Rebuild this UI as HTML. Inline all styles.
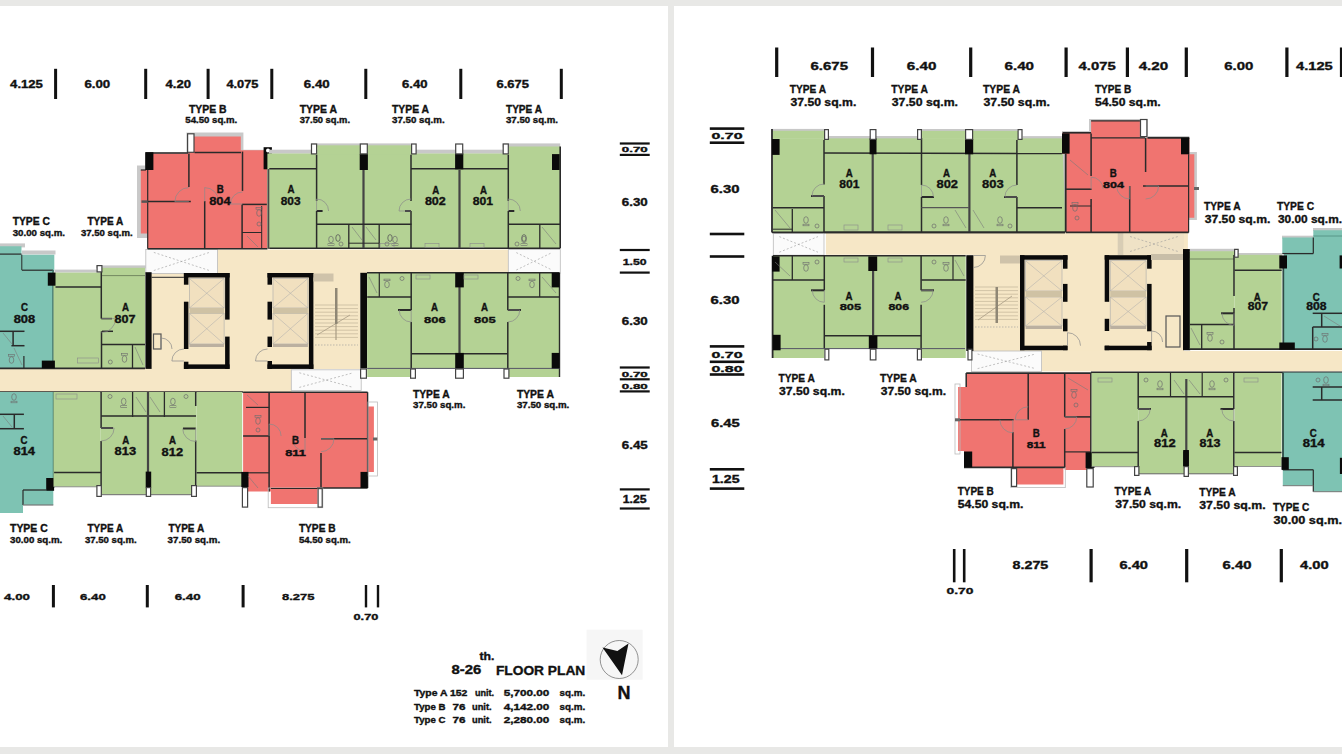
<!DOCTYPE html>
<html><head><meta charset="utf-8"><style>
html,body{margin:0;padding:0;background:#fff;overflow:hidden}
svg{display:block}
text{font-family:"Liberation Sans",sans-serif}
</style></head><body>
<svg width="1342" height="754" viewBox="0 0 1342 754" shape-rendering="geometricPrecision">
<rect width="1342" height="754" fill="#fff"/>
<rect x="0" y="0" width="1342" height="6" fill="#e8e8e6" />
<rect x="0" y="747" width="1342" height="7" fill="#e8e8e6" />
<rect x="668" y="0" width="6" height="754" fill="#e8e8e6" />
<rect x="217.5" y="249.5" width="291" height="24" fill="#f6e7c6" />
<rect x="151" y="272" width="209" height="97" fill="#f6e7c6" />
<rect x="0" y="368.5" width="291.5" height="23.5" fill="#f6e7c6" />
<rect x="145.8" y="249.4" width="71.6" height="24" fill="#fbfbfb" stroke="#bbb" stroke-width="0.8"/>
<rect x="508.3" y="249.6" width="52" height="23.4" fill="#fbfbfb" stroke="#bbb" stroke-width="0.8"/>
<rect x="291.3" y="369.8" width="69.9" height="20.6" fill="#fbfbfb" stroke="#bbb" stroke-width="0.8"/>
<line x1="153.8" y1="252.4" x2="209.4" y2="270.5" stroke="#999" stroke-width="0.6" stroke-dasharray="2,2"/>
<line x1="153.8" y1="270.5" x2="209.4" y2="252.4" stroke="#999" stroke-width="0.6" stroke-dasharray="2,2"/>
<line x1="516.3" y1="252.6" x2="552" y2="270" stroke="#999" stroke-width="0.6" stroke-dasharray="2,2"/>
<line x1="516.3" y1="270" x2="552" y2="252.6" stroke="#999" stroke-width="0.6" stroke-dasharray="2,2"/>
<line x1="299.3" y1="372.8" x2="353.2" y2="387.4" stroke="#999" stroke-width="0.6" stroke-dasharray="2,2"/>
<line x1="299.3" y1="387.4" x2="353.2" y2="372.8" stroke="#999" stroke-width="0.6" stroke-dasharray="2,2"/>
<polygon points="137,165.5 145.2,165.5 145.2,152.2 186.4,152.2 186.4,132.6 243.4,132.6 243.4,149.7 266,149.7 266,248.8 147.7,248.8 147.7,238 137,238" fill="#c9c9c9" stroke="none" stroke-width="0" />
<polygon points="140.8,170 146,170 146,153.5 188.3,153.5 188.3,136.4 240.8,136.4 240.8,150.3 267.4,150.3 267.4,248.8 147.7,248.8 147.7,233.6 140.8,233.6" fill="#f07470" stroke="none" stroke-width="0" />
<rect x="187.6" y="133.79999999999998" width="6.399999999999994" height="18.500000000000018" fill="#fff" stroke="#444" stroke-width="1.2"/>
<line x1="146" y1="153" x2="188" y2="153" stroke="#2a2a2a" stroke-width="1.6" />
<line x1="194.6" y1="152.5" x2="241" y2="152.5" stroke="#2a2a2a" stroke-width="1.4" />
<line x1="140.8" y1="170" x2="146" y2="170" stroke="#2a2a2a" stroke-width="1.2" />
<line x1="147.7" y1="248.8" x2="267.4" y2="248.8" stroke="#2a2a2a" stroke-width="1.6" />
<line x1="188.9" y1="153.5" x2="188.9" y2="187" stroke="#2a2a2a" stroke-width="1.5" />
<line x1="242.5" y1="151.6" x2="242.5" y2="190.9" stroke="#2a2a2a" stroke-width="1.5" />
<line x1="147.7" y1="201.6" x2="190.8" y2="201.6" stroke="#2a2a2a" stroke-width="1.5" />
<line x1="204.7" y1="201" x2="204.7" y2="248.8" stroke="#2a2a2a" stroke-width="1.5" />
<line x1="242.1" y1="204.4" x2="266.8" y2="204.4" stroke="#2a2a2a" stroke-width="1.5" />
<line x1="242.1" y1="204.4" x2="242.1" y2="248.8" stroke="#2a2a2a" stroke-width="1.5" />
<line x1="261.7" y1="206" x2="261.7" y2="248.8" stroke="#2a2a2a" stroke-width="1.0" />
<line x1="242" y1="232.5" x2="261.7" y2="232.5" stroke="#2a2a2a" stroke-width="1.0" />
<line x1="147.7" y1="170" x2="147.7" y2="248.8" stroke="#2a2a2a" stroke-width="1.2" />
<line x1="141.5" y1="201.6" x2="147.7" y2="201.6" stroke="#555" stroke-width="2.5" />
<path d="M188.9,201.6 L174.9,201.6 A14,14 0 0 1 188.9,187.6" fill="none" stroke="#8a8a8a" stroke-width="0.7"/>
<path d="M204.7,201.6 L204.7,187.6 A14,14 0 0 1 218.7,201.6" fill="none" stroke="#8a8a8a" stroke-width="0.7"/>
<path d="M242.5,204.0 L230.5,204.0 A12,12 0 0 1 242.5,192.0" fill="none" stroke="#8a8a8a" stroke-width="0.7"/>
<rect x="145.2" y="152.2" width="8.200000000000017" height="17.80000000000001" fill="#0a0a0a" />
<rect x="263.6" y="147.2" width="8.299999999999955" height="22.100000000000023" fill="#0a0a0a" />
<circle cx="268" cy="150.5" r="2" fill="#fff"/>
<rect x="269" y="149.7" width="291.5" height="4" fill="#c8c8c8" />
<rect x="310.9" y="143.4" width="100" height="4" fill="#c8c8c8" />
<rect x="502.6" y="143.4" width="57.6" height="4" fill="#c8c8c8" />
<rect x="267.4" y="153.5" width="292.8" height="95" fill="#b4d294" />
<line x1="268.4" y1="169" x2="268.4" y2="248.8" stroke="#4a4a4a" stroke-width="1.8" />
<rect x="317.2" y="145.3" width="93.8" height="9" fill="#b4d294" />
<rect x="508.9" y="146.5" width="51.3" height="8" fill="#b4d294" />
<line x1="269.3" y1="248.2" x2="560.2" y2="248.2" stroke="#2a2a2a" stroke-width="1.6" />
<line x1="560.2" y1="146.5" x2="560.2" y2="248.2" stroke="#2a2a2a" stroke-width="1.6" />
<line x1="269.3" y1="168.7" x2="316.6" y2="168.7" stroke="#2a2a2a" stroke-width="1.5" />
<line x1="411" y1="168.7" x2="508.3" y2="168.7" stroke="#2a2a2a" stroke-width="1.5" />
<line x1="316.6" y1="154.8" x2="316.6" y2="201" stroke="#2a2a2a" stroke-width="1.5" />
<line x1="411" y1="154.8" x2="411" y2="201" stroke="#2a2a2a" stroke-width="1.5" />
<line x1="508.3" y1="154.8" x2="508.3" y2="201" stroke="#2a2a2a" stroke-width="1.5" />
<line x1="363.5" y1="170" x2="363.5" y2="248" stroke="#444" stroke-width="2.2" />
<line x1="459.5" y1="170" x2="459.5" y2="248" stroke="#444" stroke-width="2.2" />
<line x1="316.6" y1="211" x2="322.6" y2="211" stroke="#2a2a2a" stroke-width="2.0" />
<line x1="316.6" y1="211" x2="316.6" y2="248" stroke="#2a2a2a" stroke-width="1.5" />
<path d="M316.6,211.0 L316.6,199.0 A12,12 0 0 1 328.6,211.0" fill="none" stroke="#8a8a8a" stroke-width="0.7"/>
<line x1="411" y1="211" x2="405" y2="211" stroke="#2a2a2a" stroke-width="2.0" />
<line x1="411" y1="211" x2="411" y2="248" stroke="#2a2a2a" stroke-width="1.5" />
<path d="M411.0,211.0 L399.0,211.0 A12,12 0 0 1 411.0,199.0" fill="none" stroke="#8a8a8a" stroke-width="0.7"/>
<line x1="508.3" y1="211" x2="514.3" y2="211" stroke="#2a2a2a" stroke-width="2.0" />
<line x1="508.3" y1="211" x2="508.3" y2="248" stroke="#2a2a2a" stroke-width="1.5" />
<path d="M508.3,211.0 L508.3,199.0 A12,12 0 0 1 520.3,211.0" fill="none" stroke="#8a8a8a" stroke-width="0.7"/>
<line x1="316.5" y1="224.2" x2="411.5" y2="224.2" stroke="#2a2a2a" stroke-width="1.5" />
<line x1="348.8" y1="224.2" x2="348.8" y2="248" stroke="#2a2a2a" stroke-width="1.3" />
<line x1="379.2" y1="224.2" x2="379.2" y2="248" stroke="#2a2a2a" stroke-width="1.3" />
<line x1="348.8" y1="243.2" x2="379.2" y2="243.2" stroke="#2a2a2a" stroke-width="1.0" />
<line x1="508.3" y1="224.2" x2="560" y2="224.2" stroke="#2a2a2a" stroke-width="1.5" />
<line x1="539.8" y1="224.2" x2="539.8" y2="248" stroke="#2a2a2a" stroke-width="1.3" />
<ellipse cx="338" cy="238" rx="2.2" ry="3.4" fill="none" stroke="#555" stroke-width="0.8"/>
<ellipse cx="390" cy="238" rx="2.2" ry="3.4" fill="none" stroke="#555" stroke-width="0.8"/>
<ellipse cx="524" cy="238" rx="2.2" ry="3.4" fill="none" stroke="#555" stroke-width="0.8"/>
<rect x="359.7" y="154.1" width="8.199999999999989" height="15.900000000000006" fill="#0a0a0a" />
<rect x="455.1" y="153.5" width="8.199999999999989" height="15.800000000000011" fill="#0a0a0a" />
<rect x="552" y="154.1" width="7.600000000000023" height="15.900000000000006" fill="#0a0a0a" />
<rect x="311.5" y="144.0" width="5.100000000000011" height="9.899999999999995" fill="#fff" stroke="#444" stroke-width="1.2"/>
<rect x="360.3" y="144.0" width="6.9999999999999885" height="9.899999999999995" fill="#fff" stroke="#444" stroke-width="1.2"/>
<rect x="411.6" y="144.0" width="4.4999999999999885" height="9.899999999999995" fill="#fff" stroke="#444" stroke-width="1.2"/>
<rect x="455.70000000000005" y="144.0" width="6.9999999999999885" height="9.899999999999995" fill="#fff" stroke="#444" stroke-width="1.2"/>
<rect x="503.20000000000005" y="144.0" width="5.099999999999954" height="9.899999999999995" fill="#fff" stroke="#444" stroke-width="1.2"/>
<rect x="145.4" y="272.2" width="6.2" height="96.7" fill="#0a0a0a" />
<rect x="360.3" y="272.8" width="6.9" height="95.6" fill="#0a0a0a" />
<rect x="183.9" y="273" width="45.69999999999999" height="4.5" fill="#0a0a0a" />
<rect x="183.9" y="364.4" width="45.69999999999999" height="4.5" fill="#0a0a0a" />
<rect x="183.9" y="273" width="4.5" height="11.699999999999989" fill="#0a0a0a" />
<rect x="183.9" y="301.7" width="4.5" height="47.30000000000001" fill="#0a0a0a" />
<rect x="183.9" y="361.7" width="4.5" height="7.199999999999989" fill="#0a0a0a" />
<rect x="225.1" y="273" width="4.5" height="46.60000000000002" fill="#0a0a0a" />
<rect x="225.1" y="336.6" width="4.5" height="32.299999999999955" fill="#0a0a0a" />
<rect x="189.4" y="278.5" width="34.69999999999999" height="29.5" fill="#f1e0bf" stroke="#aaa" stroke-width="0.6"/>
<line x1="189.4" y1="278.5" x2="224.1" y2="308" stroke="#aaa" stroke-width="0.5" />
<line x1="189.4" y1="308" x2="224.1" y2="278.5" stroke="#aaa" stroke-width="0.5" />
<rect x="189.4" y="313.4" width="34.69999999999999" height="30.600000000000023" fill="#f1e0bf" stroke="#aaa" stroke-width="0.6"/>
<line x1="189.4" y1="313.4" x2="224.1" y2="344" stroke="#aaa" stroke-width="0.5" />
<line x1="189.4" y1="344" x2="224.1" y2="313.4" stroke="#aaa" stroke-width="0.5" />
<rect x="189.4" y="308" width="34.69999999999999" height="5.4" fill="#cfc2a4" />
<rect x="189.4" y="344" width="34.69999999999999" height="3" fill="#bbb0a0" />
<rect x="267.5" y="273" width="45.89999999999998" height="4.5" fill="#0a0a0a" />
<rect x="267.5" y="364.4" width="45.89999999999998" height="4.5" fill="#0a0a0a" />
<rect x="267.5" y="273" width="4.5" height="11.699999999999989" fill="#0a0a0a" />
<rect x="267.5" y="301.7" width="4.5" height="17.900000000000034" fill="#0a0a0a" />
<rect x="267.5" y="336.6" width="4.5" height="10.399999999999977" fill="#0a0a0a" />
<rect x="267.5" y="361" width="4.5" height="7.899999999999977" fill="#0a0a0a" />
<rect x="308.9" y="273" width="4.5" height="95.89999999999998" fill="#0a0a0a" />
<rect x="273.0" y="278.5" width="34.89999999999998" height="29.5" fill="#f1e0bf" stroke="#aaa" stroke-width="0.6"/>
<line x1="273.0" y1="278.5" x2="307.9" y2="308" stroke="#aaa" stroke-width="0.5" />
<line x1="273.0" y1="308" x2="307.9" y2="278.5" stroke="#aaa" stroke-width="0.5" />
<rect x="273.0" y="313.4" width="34.89999999999998" height="30.600000000000023" fill="#f1e0bf" stroke="#aaa" stroke-width="0.6"/>
<line x1="273.0" y1="313.4" x2="307.9" y2="344" stroke="#aaa" stroke-width="0.5" />
<line x1="273.0" y1="344" x2="307.9" y2="313.4" stroke="#aaa" stroke-width="0.5" />
<rect x="273.0" y="308" width="34.89999999999998" height="5.4" fill="#cfc2a4" />
<rect x="273.0" y="344" width="34.89999999999998" height="3" fill="#bbb0a0" />
<line x1="315" y1="305.0" x2="358" y2="305.0" stroke="#b8ab90" stroke-width="0.6" />
<line x1="315" y1="308.6" x2="358" y2="308.6" stroke="#b8ab90" stroke-width="0.6" />
<line x1="315" y1="312.2" x2="358" y2="312.2" stroke="#b8ab90" stroke-width="0.6" />
<line x1="315" y1="315.8" x2="358" y2="315.8" stroke="#b8ab90" stroke-width="0.6" />
<line x1="315" y1="319.4" x2="358" y2="319.4" stroke="#b8ab90" stroke-width="0.6" />
<line x1="315" y1="323.0" x2="358" y2="323.0" stroke="#b8ab90" stroke-width="0.6" />
<line x1="315" y1="326.6" x2="358" y2="326.6" stroke="#b8ab90" stroke-width="0.6" />
<line x1="315" y1="330.2" x2="358" y2="330.2" stroke="#b8ab90" stroke-width="0.6" />
<line x1="315" y1="333.8" x2="358" y2="333.8" stroke="#b8ab90" stroke-width="0.6" />
<line x1="315" y1="337.4" x2="358" y2="337.4" stroke="#b8ab90" stroke-width="0.6" />
<line x1="336" y1="305" x2="336" y2="340" stroke="#a89c84" stroke-width="1.2" />
<line x1="317" y1="335" x2="350" y2="315" stroke="#a89c84" stroke-width="0.8" />
<line x1="151.6" y1="277.3" x2="183.9" y2="277.3" stroke="#2a2a2a" stroke-width="1.0" />
<rect x="0" y="243.4" width="25" height="4" fill="#c8c8c8" />
<rect x="22" y="250.5" width="33.5" height="4" fill="#c8c8c8" />
<polygon points="0,246.3 21.5,246.3 21.5,254.7 54.3,254.7 54.3,270.2 53.1,270.2 53.1,368.4 0,368.4" fill="#7ec3b3" stroke="none" stroke-width="0" />
<line x1="0" y1="254.1" x2="21.5" y2="254.1" stroke="#2a2a2a" stroke-width="1.2" />
<line x1="22" y1="270.2" x2="53" y2="270.2" stroke="#2a2a2a" stroke-width="1.2" />
<line x1="21.8" y1="254.7" x2="21.8" y2="270.2" stroke="#2a2a2a" stroke-width="1.0" />
<line x1="53.1" y1="270" x2="53.1" y2="368.4" stroke="#3f6f66" stroke-width="1.6" />
<rect x="54.5" y="269.6" width="47.5" height="3" fill="#c8c8c8" />
<rect x="96" y="265.4" width="50" height="3" fill="#c8c8c8" />
<rect x="53.5" y="272.6" width="48.5" height="95.8" fill="#b4d294" />
<rect x="102" y="267.8" width="43" height="100.6" fill="#b4d294" />
<line x1="55.5" y1="287" x2="101.3" y2="287" stroke="#2a2a2a" stroke-width="1.5" />
<line x1="101.3" y1="270.8" x2="101.3" y2="318.6" stroke="#2a2a2a" stroke-width="1.5" />
<line x1="101.3" y1="318.6" x2="112" y2="318.6" stroke="#2a2a2a" stroke-width="1.5" />
<line x1="101.5" y1="331.3" x2="101.5" y2="368.4" stroke="#2a2a2a" stroke-width="1.5" />
<line x1="101.5" y1="344.5" x2="145" y2="344.5" stroke="#2a2a2a" stroke-width="1.5" />
<line x1="132.5" y1="344.5" x2="132.5" y2="368.4" stroke="#2a2a2a" stroke-width="1.3" />
<line x1="102" y1="331.3" x2="113" y2="331.3" stroke="#2a2a2a" stroke-width="1.5" />
<line x1="102" y1="275.6" x2="145" y2="275.6" stroke="#6b7f5a" stroke-width="0.9" />
<path d="M101.5,318.6 L115.5,318.6 A14,14 0 0 1 101.5,332.6" fill="none" stroke="#8a8a8a" stroke-width="0.7"/>
<line x1="0" y1="331.3" x2="24.5" y2="331.3" stroke="#2a2a2a" stroke-width="1.5" />
<line x1="11.4" y1="345.7" x2="24.5" y2="345.7" stroke="#2a2a2a" stroke-width="1.5" />
<line x1="13.1" y1="331.3" x2="13.1" y2="345.7" stroke="#2a2a2a" stroke-width="1.5" />
<line x1="23.9" y1="356" x2="23.9" y2="368.4" stroke="#2a2a2a" stroke-width="1.2" />
<line x1="0" y1="368.4" x2="145" y2="368.4" stroke="#2a2a2a" stroke-width="1.6" />
<rect x="47.8" y="272.6" width="7.700000000000003" height="13.099999999999966" fill="#0a0a0a" />
<rect x="41.8" y="360.6" width="13.100000000000001" height="7.7999999999999545" fill="#0a0a0a" />
<rect x="97.1" y="265.6" width="4.8" height="6.3" fill="#fff" stroke="#444" stroke-width="1.2"/>
<polygon points="367.2,272.8 559.5,272.8 559.5,377 507.8,377 507.8,368.4 411.2,368.4 411.2,377 367.2,377" fill="#b4d294" stroke="none" stroke-width="0" />
<line x1="367" y1="272.8" x2="559.5" y2="272.8" stroke="#2a2a2a" stroke-width="1.6" />
<line x1="559.5" y1="272.8" x2="559.5" y2="377" stroke="#2a2a2a" stroke-width="1.4" />
<line x1="411.2" y1="272.8" x2="411.2" y2="310" stroke="#2a2a2a" stroke-width="1.5" />
<line x1="411.2" y1="322" x2="411.2" y2="368.4" stroke="#2a2a2a" stroke-width="1.5" />
<line x1="507.8" y1="272.8" x2="507.8" y2="310" stroke="#2a2a2a" stroke-width="1.5" />
<line x1="507.8" y1="322" x2="507.8" y2="368.4" stroke="#2a2a2a" stroke-width="1.5" />
<line x1="459.5" y1="287" x2="459.5" y2="353" stroke="#444" stroke-width="2.2" />
<line x1="367.2" y1="296.9" x2="411.2" y2="296.9" stroke="#2a2a2a" stroke-width="1.5" />
<line x1="507.8" y1="296.9" x2="559.5" y2="296.9" stroke="#2a2a2a" stroke-width="1.5" />
<line x1="411.2" y1="353.8" x2="507.8" y2="353.8" stroke="#2a2a2a" stroke-width="1.5" />
<line x1="379.3" y1="272.8" x2="379.3" y2="296.9" stroke="#2a2a2a" stroke-width="1.2" />
<line x1="539.7" y1="272.8" x2="539.7" y2="296.9" stroke="#2a2a2a" stroke-width="1.2" />
<line x1="398" y1="310" x2="411.2" y2="310" stroke="#2a2a2a" stroke-width="2.0" />
<line x1="507.8" y1="310" x2="521" y2="310" stroke="#2a2a2a" stroke-width="2.0" />
<path d="M411.2,310.0 L411.2,322.0 A12,12 0 0 1 399.2,310.0" fill="none" stroke="#8a8a8a" stroke-width="0.7"/>
<path d="M507.8,310.0 L519.8,310.0 A12,12 0 0 1 507.8,322.0" fill="none" stroke="#8a8a8a" stroke-width="0.7"/>
<line x1="367.2" y1="368.4" x2="559.5" y2="368.4" stroke="#556" stroke-width="1.0" />
<rect x="455.2" y="272.8" width="8.600000000000023" height="14.599999999999966" fill="#0a0a0a" />
<rect x="455.2" y="352.9" width="8.600000000000023" height="15.5" fill="#0a0a0a" />
<rect x="551.7" y="272.8" width="7.7999999999999545" height="14.599999999999966" fill="#0a0a0a" />
<rect x="551.7" y="352.9" width="7.7999999999999545" height="15.5" fill="#0a0a0a" />
<rect x="360.6" y="369.0" width="5.8" height="9.200000000000035" fill="#fff" stroke="#444" stroke-width="1.2"/>
<rect x="410.6" y="369.0" width="4.8" height="9.200000000000035" fill="#fff" stroke="#444" stroke-width="1.2"/>
<rect x="455.6" y="369.0" width="7.8" height="9.200000000000035" fill="#fff" stroke="#444" stroke-width="1.2"/>
<rect x="504.0" y="369.0" width="4.900000000000023" height="9.200000000000035" fill="#fff" stroke="#444" stroke-width="1.2"/>
<line x1="0" y1="392" x2="243" y2="392" stroke="#2a2a2a" stroke-width="1.6" />
<polygon points="0,392 53.3,392 53.3,488.4 53.3,505 23,505 23,513 0,513" fill="#7ec3b3" stroke="none" stroke-width="0" />
<line x1="23" y1="490" x2="46" y2="490" stroke="#2a2a2a" stroke-width="1.3" />
<line x1="23" y1="490" x2="23" y2="505" stroke="#2a2a2a" stroke-width="1.2" />
<line x1="23" y1="505" x2="53.3" y2="505" stroke="#777" stroke-width="1.2" />
<line x1="53.6" y1="392" x2="53.6" y2="488" stroke="#3f6f66" stroke-width="1.6" />
<line x1="0" y1="414.3" x2="23.9" y2="414.3" stroke="#2a2a2a" stroke-width="1.5" />
<line x1="0" y1="428.7" x2="23.9" y2="428.7" stroke="#2a2a2a" stroke-width="1.5" />
<line x1="14.3" y1="414.3" x2="14.3" y2="428.7" stroke="#2a2a2a" stroke-width="1.5" />
<rect x="46.2" y="478" width="7.899999999999999" height="12.800000000000011" fill="#0a0a0a" />
<rect x="53.5" y="392" width="46.8" height="94.8" fill="#b4d294" />
<rect x="100.3" y="392" width="96.3" height="102.3" fill="#b4d294" />
<rect x="196.6" y="392" width="45.6" height="94.2" fill="#b4d294" />
<line x1="54.1" y1="472.4" x2="101" y2="472.4" stroke="#2a2a2a" stroke-width="1.5" />
<line x1="196.6" y1="472.8" x2="242" y2="472.8" stroke="#2a2a2a" stroke-width="1.5" />
<line x1="101.1" y1="416" x2="148" y2="416" stroke="#2a2a2a" stroke-width="1.5" />
<line x1="148" y1="416" x2="196" y2="416" stroke="#2a2a2a" stroke-width="1.5" />
<line x1="101.1" y1="392" x2="101.1" y2="428" stroke="#2a2a2a" stroke-width="1.5" />
<line x1="101.1" y1="441" x2="101.1" y2="494" stroke="#2a2a2a" stroke-width="1.5" />
<line x1="101.1" y1="428" x2="113" y2="428" stroke="#2a2a2a" stroke-width="2.0" />
<line x1="195.7" y1="392" x2="195.7" y2="406" stroke="#2a2a2a" stroke-width="1.5" />
<line x1="195.7" y1="440.5" x2="195.7" y2="494" stroke="#2a2a2a" stroke-width="1.5" />
<line x1="183" y1="428.5" x2="195.7" y2="428.5" stroke="#2a2a2a" stroke-width="2.0" />
<line x1="148" y1="392" x2="148" y2="472" stroke="#444" stroke-width="2.2" />
<line x1="132.6" y1="392" x2="132.6" y2="417" stroke="#2a2a2a" stroke-width="1.3" />
<line x1="164.4" y1="392" x2="164.4" y2="417" stroke="#2a2a2a" stroke-width="1.3" />
<line x1="54" y1="486.8" x2="100" y2="486.8" stroke="#888" stroke-width="0.9" />
<line x1="196" y1="486.2" x2="242" y2="486.2" stroke="#888" stroke-width="0.9" />
<line x1="101" y1="494.7" x2="196" y2="494.7" stroke="#666" stroke-width="1.0" />
<path d="M101.1,428.0 L114.1,428.0 A13,13 0 0 1 101.1,441.0" fill="none" stroke="#8a8a8a" stroke-width="0.7"/>
<path d="M195.7,428.5 L195.7,441.5 A13,13 0 0 1 182.7,428.5" fill="none" stroke="#8a8a8a" stroke-width="0.7"/>
<rect x="145.7" y="471.6" width="5.5" height="16.0" fill="#0a0a0a" />
<rect x="96.89999999999999" y="485.6" width="4.400000000000008" height="10.8" fill="#fff" stroke="#444" stroke-width="1.2"/>
<rect x="146.29999999999998" y="487.6" width="4.3" height="8.8" fill="#fff" stroke="#444" stroke-width="1.2"/>
<rect x="191.6" y="485.6" width="4.8" height="10.8" fill="#fff" stroke="#444" stroke-width="1.2"/>
<polygon points="243.1,392.2 367.6,392.2 367.6,406.5 373.9,406.5 373.9,471.9 367.6,471.9 367.6,488 317.5,488 317.5,504.1 270.9,504.1 270.9,491.6 243.1,491.6" fill="#f07470" stroke="none" stroke-width="0" />
<line x1="243.1" y1="392.2" x2="367.6" y2="392.2" stroke="#2a2a2a" stroke-width="1.6" />
<line x1="367.6" y1="392.2" x2="367.6" y2="488" stroke="#2a2a2a" stroke-width="1.4" />
<line x1="317" y1="488" x2="367.6" y2="488" stroke="#2a2a2a" stroke-width="1.4" />
<line x1="269.1" y1="392.2" x2="269.1" y2="491.6" stroke="#2a2a2a" stroke-width="1.5" />
<line x1="305" y1="392.2" x2="305" y2="438" stroke="#2a2a2a" stroke-width="1.5" />
<line x1="321" y1="453" x2="321" y2="488" stroke="#2a2a2a" stroke-width="1.5" />
<line x1="321" y1="438.7" x2="367.6" y2="438.7" stroke="#2a2a2a" stroke-width="1.5" />
<line x1="243.1" y1="436" x2="269.1" y2="436" stroke="#2a2a2a" stroke-width="1.5" />
<line x1="246" y1="407.4" x2="269.1" y2="407.4" stroke="#2a2a2a" stroke-width="1.2" />
<line x1="246" y1="472.8" x2="269.1" y2="472.8" stroke="#2a2a2a" stroke-width="1.2" />
<line x1="373" y1="439" x2="378" y2="439" stroke="#666" stroke-width="3" />
<rect x="368" y="402" width="9.5" height="74" fill="none" stroke="#bbb" stroke-width="0.8"/>
<rect x="268.2" y="488" width="54.6" height="19.7" fill="none" stroke="#bbb" stroke-width="0.8"/>
<line x1="270.9" y1="488.5" x2="317.5" y2="488.5" stroke="#2a2a2a" stroke-width="1.2" />
<path d="M305.0,438.0 L305.0,451.0 A13,13 0 0 1 292.0,438.0" fill="none" stroke="#8a8a8a" stroke-width="0.7"/>
<path d="M321.0,438.7 L334.0,438.7 A13,13 0 0 1 321.0,451.7" fill="none" stroke="#8a8a8a" stroke-width="0.7"/>
<path d="M269.1,436.0 L269.1,424.0 A12,12 0 0 1 281.1,436.0" fill="none" stroke="#8a8a8a" stroke-width="0.7"/>
<rect x="360.5" y="471.9" width="7.100000000000023" height="16.100000000000023" fill="#0a0a0a" />
<rect x="241.3" y="471.9" width="7.199999999999989" height="15.100000000000023" fill="#0a0a0a" />
<rect x="242.4" y="487.6" width="5.199999999999977" height="19.49999999999999" fill="#fff" stroke="#444" stroke-width="1.2"/>
<rect x="318.1" y="488.6" width="4.100000000000011" height="18.49999999999999" fill="#fff" stroke="#444" stroke-width="1.2"/>
<text x="216.7" y="193.0" font-size="10.83" font-weight="bold" fill="#111" textLength="7.0" lengthAdjust="spacingAndGlyphs" stroke="#111" stroke-width="0.35" >B</text>
<text x="209.2" y="205.4" font-size="11.39" font-weight="bold" fill="#111" textLength="21.5" lengthAdjust="spacingAndGlyphs" stroke="#111" stroke-width="0.35" >804</text>
<text x="287.6" y="192.7" font-size="10.83" font-weight="bold" fill="#111" textLength="7.0" lengthAdjust="spacingAndGlyphs" stroke="#111" stroke-width="0.35" >A</text>
<text x="280.7" y="205.4" font-size="11.39" font-weight="bold" fill="#111" textLength="19.80000000000001" lengthAdjust="spacingAndGlyphs" stroke="#111" stroke-width="0.35" >803</text>
<text x="432.2" y="193.5" font-size="10.83" font-weight="bold" fill="#111" textLength="7.0" lengthAdjust="spacingAndGlyphs" stroke="#111" stroke-width="0.35" >A</text>
<text x="424.9" y="205.4" font-size="11.39" font-weight="bold" fill="#111" textLength="20.900000000000034" lengthAdjust="spacingAndGlyphs" stroke="#111" stroke-width="0.35" >802</text>
<text x="480.1" y="193.5" font-size="10.83" font-weight="bold" fill="#111" textLength="7.0" lengthAdjust="spacingAndGlyphs" stroke="#111" stroke-width="0.35" >A</text>
<text x="472.8" y="205.4" font-size="11.39" font-weight="bold" fill="#111" textLength="20.30000000000001" lengthAdjust="spacingAndGlyphs" stroke="#111" stroke-width="0.35" >801</text>
<text x="21.0" y="310.8" font-size="10.83" font-weight="bold" fill="#111" textLength="7.0" lengthAdjust="spacingAndGlyphs" stroke="#111" stroke-width="0.35" >C</text>
<text x="13.7" y="322.8" font-size="10.0" font-weight="bold" fill="#111" textLength="21.500000000000004" lengthAdjust="spacingAndGlyphs" stroke="#111" stroke-width="0.35" >808</text>
<text x="121.9" y="310.8" font-size="10.83" font-weight="bold" fill="#111" textLength="7.0" lengthAdjust="spacingAndGlyphs" stroke="#111" stroke-width="0.35" >A</text>
<text x="114.6" y="322.8" font-size="10.0" font-weight="bold" fill="#111" textLength="20.900000000000006" lengthAdjust="spacingAndGlyphs" stroke="#111" stroke-width="0.35" >807</text>
<text x="431.0" y="311.0" font-size="10.83" font-weight="bold" fill="#111" textLength="7.0" lengthAdjust="spacingAndGlyphs" stroke="#111" stroke-width="0.35" >A</text>
<text x="424.1" y="322.8" font-size="9.58" font-weight="bold" fill="#111" textLength="21.599999999999966" lengthAdjust="spacingAndGlyphs" stroke="#111" stroke-width="0.35" >806</text>
<text x="481.0" y="311.0" font-size="10.83" font-weight="bold" fill="#111" textLength="7.0" lengthAdjust="spacingAndGlyphs" stroke="#111" stroke-width="0.35" >A</text>
<text x="474.1" y="322.8" font-size="9.58" font-weight="bold" fill="#111" textLength="21.599999999999966" lengthAdjust="spacingAndGlyphs" stroke="#111" stroke-width="0.35" >805</text>
<text x="20.4" y="443.59999999999997" font-size="10.83" font-weight="bold" fill="#111" textLength="7.0" lengthAdjust="spacingAndGlyphs" stroke="#111" stroke-width="0.35" >C</text>
<text x="13.5" y="455" font-size="10.0" font-weight="bold" fill="#111" textLength="21.5" lengthAdjust="spacingAndGlyphs" stroke="#111" stroke-width="0.35" >814</text>
<text x="122.3" y="443.59999999999997" font-size="10.83" font-weight="bold" fill="#111" textLength="7.000000000000014" lengthAdjust="spacingAndGlyphs" stroke="#111" stroke-width="0.35" >A</text>
<text x="114.6" y="455" font-size="10.0" font-weight="bold" fill="#111" textLength="21.5" lengthAdjust="spacingAndGlyphs" stroke="#111" stroke-width="0.35" >813</text>
<text x="168.9" y="444.3" font-size="10.83" font-weight="bold" fill="#111" textLength="7.0" lengthAdjust="spacingAndGlyphs" stroke="#111" stroke-width="0.35" >A</text>
<text x="161.6" y="455.5" font-size="10.14" font-weight="bold" fill="#111" textLength="21.5" lengthAdjust="spacingAndGlyphs" stroke="#111" stroke-width="0.35" >812</text>
<text x="291.9" y="444.3" font-size="10.83" font-weight="bold" fill="#111" textLength="7.0" lengthAdjust="spacingAndGlyphs" stroke="#111" stroke-width="0.35" >B</text>
<text x="285.2" y="455.7" font-size="8.61" font-weight="bold" fill="#111" textLength="20.600000000000023" lengthAdjust="spacingAndGlyphs" stroke="#111" stroke-width="0.35" >811</text>
<rect x="153.5" y="334" width="7.5" height="15" fill="none" stroke="#555" stroke-width="1.2"/>
<path d="M161.0,349.0 L161.0,338.0 A11,11 0 0 1 172.0,349.0" fill="none" stroke="#8a8a8a" stroke-width="0.7"/>
<path d="M183.9,361.0 L171.9,361.0 A12,12 0 0 1 183.9,349.0" fill="none" stroke="#8a8a8a" stroke-width="0.7"/>
<path d="M267.5,361.0 L255.5,361.0 A12,12 0 0 1 267.5,349.0" fill="none" stroke="#8a8a8a" stroke-width="0.7"/>
<rect x="335" y="288" width="2.5" height="36" fill="#8f8775" />
<line x1="315" y1="345" x2="358" y2="345" stroke="#999" stroke-width="0.6" stroke-dasharray="1.5,1.5"/>
<rect x="313.5" y="273.5" width="20" height="8" fill="#cfc3aa" />
<text x="10.1" y="87.9" font-size="10.42" font-weight="bold" fill="#111" textLength="32.8" lengthAdjust="spacingAndGlyphs" stroke="#111" stroke-width="0.35" >4.125</text>
<text x="84.4" y="87.9" font-size="10.42" font-weight="bold" fill="#111" textLength="25.799999999999997" lengthAdjust="spacingAndGlyphs" stroke="#111" stroke-width="0.35" >6.00</text>
<text x="165.6" y="87.9" font-size="10.42" font-weight="bold" fill="#111" textLength="25.5" lengthAdjust="spacingAndGlyphs" stroke="#111" stroke-width="0.35" >4.20</text>
<text x="226.4" y="87.9" font-size="10.42" font-weight="bold" fill="#111" textLength="31.99999999999997" lengthAdjust="spacingAndGlyphs" stroke="#111" stroke-width="0.35" >4.075</text>
<text x="303.8" y="87.9" font-size="10.42" font-weight="bold" fill="#111" textLength="25.899999999999977" lengthAdjust="spacingAndGlyphs" stroke="#111" stroke-width="0.35" >6.40</text>
<text x="402.1" y="87.9" font-size="10.42" font-weight="bold" fill="#111" textLength="25.5" lengthAdjust="spacingAndGlyphs" stroke="#111" stroke-width="0.35" >6.40</text>
<text x="496.5" y="87.9" font-size="10.42" font-weight="bold" fill="#111" textLength="32.39999999999998" lengthAdjust="spacingAndGlyphs" stroke="#111" stroke-width="0.35" >6.675</text>
<rect x="54.1" y="68.8" width="3" height="30.2" fill="#111" />
<rect x="144.2" y="68.8" width="3" height="30.2" fill="#111" />
<rect x="206.6" y="68.8" width="3" height="30.2" fill="#111" />
<rect x="270.3" y="68.8" width="3" height="30.2" fill="#111" />
<rect x="364.3" y="68.8" width="3" height="30.2" fill="#111" />
<rect x="459.3" y="68.8" width="3" height="30.2" fill="#111" />
<rect x="559.8" y="68.8" width="3" height="30.2" fill="#111" />
<rect x="619.8" y="142.4" width="29.90000000000009" height="2.2" fill="#111" />
<rect x="619.8" y="153.8" width="29.90000000000009" height="2.2" fill="#111" />
<rect x="619.8" y="248.9" width="29.90000000000009" height="2.2" fill="#111" />
<rect x="619.8" y="271.5" width="29.90000000000009" height="2.2" fill="#111" />
<rect x="619.8" y="366.4" width="29.90000000000009" height="2.2" fill="#111" />
<rect x="619.8" y="378.2" width="29.90000000000009" height="2.2" fill="#111" />
<rect x="619.8" y="390.29999999999995" width="29.90000000000009" height="2.2" fill="#111" />
<rect x="619.8" y="488.29999999999995" width="29.90000000000009" height="2.2" fill="#111" />
<rect x="619.8" y="507.4" width="29.90000000000009" height="2.2" fill="#111" />
<text x="621.8" y="151.6" font-size="7.5" font-weight="bold" fill="#111" textLength="25.90000000000009" lengthAdjust="spacingAndGlyphs" stroke="#111" stroke-width="0.35" >0.70</text>
<text x="621.8" y="206.4" font-size="10.56" font-weight="bold" fill="#111" textLength="25.90000000000009" lengthAdjust="spacingAndGlyphs" stroke="#111" stroke-width="0.35" >6.30</text>
<text x="622.8" y="265.3" font-size="9.72" font-weight="bold" fill="#111" textLength="23.90000000000009" lengthAdjust="spacingAndGlyphs" stroke="#111" stroke-width="0.35" >1.50</text>
<text x="621.8" y="325.2" font-size="10.56" font-weight="bold" fill="#111" textLength="25.90000000000009" lengthAdjust="spacingAndGlyphs" stroke="#111" stroke-width="0.35" >6.30</text>
<text x="621.8" y="377" font-size="7.64" font-weight="bold" fill="#111" textLength="25.90000000000009" lengthAdjust="spacingAndGlyphs" stroke="#111" stroke-width="0.35" >0.70</text>
<text x="621.8" y="388.5" font-size="7.64" font-weight="bold" fill="#111" textLength="25.90000000000009" lengthAdjust="spacingAndGlyphs" stroke="#111" stroke-width="0.35" >0.80</text>
<text x="621.8" y="448.6" font-size="10.56" font-weight="bold" fill="#111" textLength="25.90000000000009" lengthAdjust="spacingAndGlyphs" stroke="#111" stroke-width="0.35" >6.45</text>
<text x="622.8" y="503.2" font-size="10.0" font-weight="bold" fill="#111" textLength="23.90000000000009" lengthAdjust="spacingAndGlyphs" stroke="#111" stroke-width="0.35" >1.25</text>
<text x="4" y="600" font-size="9.72" font-weight="bold" fill="#111" textLength="26" lengthAdjust="spacingAndGlyphs" stroke="#111" stroke-width="0.35" >4.00</text>
<text x="79.9" y="600" font-size="9.72" font-weight="bold" fill="#111" textLength="25.89999999999999" lengthAdjust="spacingAndGlyphs" stroke="#111" stroke-width="0.35" >6.40</text>
<text x="174.7" y="600" font-size="9.72" font-weight="bold" fill="#111" textLength="26.0" lengthAdjust="spacingAndGlyphs" stroke="#111" stroke-width="0.35" >6.40</text>
<text x="282" y="600" font-size="9.72" font-weight="bold" fill="#111" textLength="32.5" lengthAdjust="spacingAndGlyphs" stroke="#111" stroke-width="0.35" >8.275</text>
<rect x="51.9" y="585" width="3" height="22.4" fill="#111" />
<rect x="145.8" y="585" width="3" height="22.4" fill="#111" />
<rect x="241.6" y="585" width="3" height="22.4" fill="#111" />
<rect x="364.8" y="585" width="2.4" height="22.4" fill="#111" />
<rect x="376.8" y="585" width="2.4" height="22.4" fill="#111" />
<text x="353.5" y="619.5" font-size="9.03" font-weight="bold" fill="#111" textLength="24.899999999999977" lengthAdjust="spacingAndGlyphs" stroke="#111" stroke-width="0.35" >0.70</text>
<text x="189" y="112.9" font-size="10.28" font-weight="bold" fill="#111" textLength="37.599999999999994" lengthAdjust="spacingAndGlyphs" stroke="#111" stroke-width="0.35" >TYPE B</text>
<text x="185.3" y="123.1" font-size="8.89" font-weight="bold" fill="#111" textLength="52.0" lengthAdjust="spacingAndGlyphs" stroke="#111" stroke-width="0.35" >54.50 sq.m.</text>
<text x="299.7" y="112.9" font-size="10.28" font-weight="bold" fill="#111" textLength="37.30000000000001" lengthAdjust="spacingAndGlyphs" stroke="#111" stroke-width="0.35" >TYPE A</text>
<text x="299.7" y="123.1" font-size="8.89" font-weight="bold" fill="#111" textLength="50.30000000000001" lengthAdjust="spacingAndGlyphs" stroke="#111" stroke-width="0.35" >37.50 sq.m.</text>
<text x="392" y="112.9" font-size="10.28" font-weight="bold" fill="#111" textLength="37" lengthAdjust="spacingAndGlyphs" stroke="#111" stroke-width="0.35" >TYPE A</text>
<text x="392" y="123.1" font-size="8.89" font-weight="bold" fill="#111" textLength="52.60000000000002" lengthAdjust="spacingAndGlyphs" stroke="#111" stroke-width="0.35" >37.50 sq.m.</text>
<text x="506" y="112.9" font-size="10.28" font-weight="bold" fill="#111" textLength="36" lengthAdjust="spacingAndGlyphs" stroke="#111" stroke-width="0.35" >TYPE A</text>
<text x="506" y="123.1" font-size="8.89" font-weight="bold" fill="#111" textLength="52" lengthAdjust="spacingAndGlyphs" stroke="#111" stroke-width="0.35" >37.50 sq.m.</text>
<text x="12.7" y="225.4" font-size="10.28" font-weight="bold" fill="#111" textLength="37.2" lengthAdjust="spacingAndGlyphs" stroke="#111" stroke-width="0.35" >TYPE C</text>
<text x="12.7" y="235.6" font-size="8.89" font-weight="bold" fill="#111" textLength="52.3" lengthAdjust="spacingAndGlyphs" stroke="#111" stroke-width="0.35" >30.00 sq.m.</text>
<text x="87.5" y="225.4" font-size="10.28" font-weight="bold" fill="#111" textLength="35.8" lengthAdjust="spacingAndGlyphs" stroke="#111" stroke-width="0.35" >TYPE A</text>
<text x="80.9" y="235.6" font-size="8.89" font-weight="bold" fill="#111" textLength="51.69999999999999" lengthAdjust="spacingAndGlyphs" stroke="#111" stroke-width="0.35" >37.50 sq.m.</text>
<text x="479.5" y="659.5" font-size="10.42" font-weight="bold" fill="#111" textLength="14.899999999999977" lengthAdjust="spacingAndGlyphs" stroke="#111" stroke-width="0.35" >th.</text>
<text x="451.6" y="673.8" font-size="12.22" font-weight="bold" fill="#111" textLength="29.799999999999955" lengthAdjust="spacingAndGlyphs" stroke="#111" stroke-width="0.35" >8-26</text>
<text x="495.9" y="674.5" font-size="13.19" font-weight="bold" fill="#111" textLength="89.39999999999998" lengthAdjust="spacingAndGlyphs" stroke="#111" stroke-width="0.35" >FLOOR PLAN</text>
<text x="414" y="695.8" font-size="9.03" font-weight="bold" fill="#111" textLength="53.39999999999998" lengthAdjust="spacingAndGlyphs" stroke="#111" stroke-width="0.35" >Type A 152</text>
<text x="474.9" y="695.8" font-size="9.03" font-weight="bold" fill="#111" textLength="19.100000000000023" lengthAdjust="spacingAndGlyphs" stroke="#111" stroke-width="0.35" >unit.</text>
<text x="503.7" y="695.8" font-size="9.03" font-weight="bold" fill="#111" textLength="45.69999999999999" lengthAdjust="spacingAndGlyphs" stroke="#111" stroke-width="0.35" >5,700.00</text>
<text x="559.6" y="695.8" font-size="9.03" font-weight="bold" fill="#111" textLength="25.699999999999932" lengthAdjust="spacingAndGlyphs" stroke="#111" stroke-width="0.35" >sq.m.</text>
<text x="414" y="709.7" font-size="9.03" font-weight="bold" fill="#111" textLength="31.600000000000023" lengthAdjust="spacingAndGlyphs" stroke="#111" stroke-width="0.35" >Type B</text>
<text x="452.5" y="709.7" font-size="9.03" font-weight="bold" fill="#111" textLength="13.0" lengthAdjust="spacingAndGlyphs" stroke="#111" stroke-width="0.35" >76</text>
<text x="472" y="709.7" font-size="9.03" font-weight="bold" fill="#111" textLength="19.600000000000023" lengthAdjust="spacingAndGlyphs" stroke="#111" stroke-width="0.35" >unit.</text>
<text x="503.7" y="709.7" font-size="9.03" font-weight="bold" fill="#111" textLength="45.69999999999999" lengthAdjust="spacingAndGlyphs" stroke="#111" stroke-width="0.35" >4,142.00</text>
<text x="559.6" y="709.7" font-size="9.03" font-weight="bold" fill="#111" textLength="25.699999999999932" lengthAdjust="spacingAndGlyphs" stroke="#111" stroke-width="0.35" >sq.m.</text>
<text x="414" y="722.8" font-size="9.03" font-weight="bold" fill="#111" textLength="31.600000000000023" lengthAdjust="spacingAndGlyphs" stroke="#111" stroke-width="0.35" >Type C</text>
<text x="452.5" y="722.8" font-size="9.03" font-weight="bold" fill="#111" textLength="13.0" lengthAdjust="spacingAndGlyphs" stroke="#111" stroke-width="0.35" >76</text>
<text x="472" y="722.8" font-size="9.03" font-weight="bold" fill="#111" textLength="19.600000000000023" lengthAdjust="spacingAndGlyphs" stroke="#111" stroke-width="0.35" >unit.</text>
<text x="503.7" y="722.8" font-size="9.03" font-weight="bold" fill="#111" textLength="45.69999999999999" lengthAdjust="spacingAndGlyphs" stroke="#111" stroke-width="0.35" >2,280.00</text>
<text x="559.6" y="722.8" font-size="9.03" font-weight="bold" fill="#111" textLength="25.699999999999932" lengthAdjust="spacingAndGlyphs" stroke="#111" stroke-width="0.35" >sq.m.</text>
<rect x="586.6" y="629.7" width="56" height="50" fill="#f6f6f6" />
<circle cx="619.2" cy="659.5" r="19" fill="none" stroke="#777" stroke-width="0.8"/>
<polygon points="602.5,647.4 617.4,651 628.5,643.6 622,675.3" fill="#111" stroke="none" stroke-width="0" />
<text x="617.4" y="698.6" font-size="18.19" font-weight="bold" fill="#111" textLength="13.0" lengthAdjust="spacingAndGlyphs" stroke="#111" stroke-width="0.35" >N</text>
<text x="413" y="397.59999999999997" font-size="10.28" font-weight="bold" fill="#111" textLength="36.69999999999999" lengthAdjust="spacingAndGlyphs" stroke="#111" stroke-width="0.35" >TYPE A</text>
<text x="413" y="407.8" font-size="8.89" font-weight="bold" fill="#111" textLength="52.39999999999998" lengthAdjust="spacingAndGlyphs" stroke="#111" stroke-width="0.35" >37.50 sq.m.</text>
<text x="516.9" y="397.59999999999997" font-size="10.28" font-weight="bold" fill="#111" textLength="37.0" lengthAdjust="spacingAndGlyphs" stroke="#111" stroke-width="0.35" >TYPE A</text>
<text x="516.9" y="407.8" font-size="8.89" font-weight="bold" fill="#111" textLength="52.39999999999998" lengthAdjust="spacingAndGlyphs" stroke="#111" stroke-width="0.35" >37.50 sq.m.</text>
<text x="298.9" y="532.4" font-size="10.28" font-weight="bold" fill="#111" textLength="36.700000000000045" lengthAdjust="spacingAndGlyphs" stroke="#111" stroke-width="0.35" >TYPE B</text>
<text x="298.9" y="542.6" font-size="8.89" font-weight="bold" fill="#111" textLength="51.700000000000045" lengthAdjust="spacingAndGlyphs" stroke="#111" stroke-width="0.35" >54.50 sq.m.</text>
<text x="10" y="532.4" font-size="10.28" font-weight="bold" fill="#111" textLength="37.7" lengthAdjust="spacingAndGlyphs" stroke="#111" stroke-width="0.35" >TYPE C</text>
<text x="10" y="542.6" font-size="8.89" font-weight="bold" fill="#111" textLength="52.3" lengthAdjust="spacingAndGlyphs" stroke="#111" stroke-width="0.35" >30.00 sq.m.</text>
<text x="87.5" y="532.4" font-size="10.28" font-weight="bold" fill="#111" textLength="35.8" lengthAdjust="spacingAndGlyphs" stroke="#111" stroke-width="0.35" >TYPE A</text>
<text x="84.9" y="542.6" font-size="8.89" font-weight="bold" fill="#111" textLength="51.69999999999999" lengthAdjust="spacingAndGlyphs" stroke="#111" stroke-width="0.35" >37.50 sq.m.</text>
<text x="168.4" y="532.4" font-size="10.28" font-weight="bold" fill="#111" textLength="35.79999999999998" lengthAdjust="spacingAndGlyphs" stroke="#111" stroke-width="0.35" >TYPE A</text>
<text x="167.6" y="542.6" font-size="8.89" font-weight="bold" fill="#111" textLength="52.5" lengthAdjust="spacingAndGlyphs" stroke="#111" stroke-width="0.35" >37.50 sq.m.</text>
<rect x="825.9" y="232.8" width="362" height="22" fill="#f6e7c6" />
<rect x="973" y="254" width="211" height="97" fill="#f6e7c6" />
<rect x="1041.5" y="350.9" width="300.5" height="20.5" fill="#f6e7c6" />
<rect x="773.3" y="233.6" width="50.7" height="21.6" fill="#fbfbfb" stroke="#bbb" stroke-width="0.8"/>
<rect x="971.6" y="351" width="69.9" height="20.6" fill="#fbfbfb" stroke="#bbb" stroke-width="0.8"/>
<rect x="1124" y="233.5" width="60" height="21" fill="#efe2c6" />
<rect x="1117.7" y="233" width="5.7" height="22" fill="#d8cdb5" />
<line x1="779.3" y1="236.6" x2="818" y2="252.2" stroke="#999" stroke-width="0.6" stroke-dasharray="2,2"/>
<line x1="779.3" y1="252.2" x2="818" y2="236.6" stroke="#999" stroke-width="0.6" stroke-dasharray="2,2"/>
<line x1="977.6" y1="354" x2="1035.5" y2="368.6" stroke="#999" stroke-width="0.6" stroke-dasharray="2,2"/>
<line x1="977.6" y1="368.6" x2="1035.5" y2="354" stroke="#999" stroke-width="0.6" stroke-dasharray="2,2"/>
<line x1="1130" y1="236.5" x2="1178" y2="251.5" stroke="#999" stroke-width="0.6" stroke-dasharray="2,2"/>
<line x1="1130" y1="251.5" x2="1178" y2="236.5" stroke="#999" stroke-width="0.6" stroke-dasharray="2,2"/>
<rect x="772" y="128.9" width="52" height="3" fill="#c8c8c8" />
<rect x="829" y="136" width="88" height="3" fill="#c8c8c8" />
<rect x="917" y="129" width="100.6" height="3" fill="#c8c8c8" />
<rect x="1022.6" y="136.1" width="39.3" height="3" fill="#c8c8c8" />
<rect x="772.7" y="138.4" width="293.1" height="94" fill="#b4d294" />
<rect x="772.7" y="130.8" width="51.3" height="8" fill="#b4d294" />
<rect x="921.9" y="130.9" width="96.9" height="8" fill="#b4d294" />
<line x1="772" y1="128.9" x2="772" y2="232.4" stroke="#2a2a2a" stroke-width="1.8" />
<line x1="772" y1="232.4" x2="1065" y2="232.4" stroke="#2a2a2a" stroke-width="1.8" />
<line x1="824" y1="153" x2="1061.9" y2="153.5" stroke="#2a2a2a" stroke-width="1.5" />
<line x1="824" y1="140" x2="824" y2="184.5" stroke="#2a2a2a" stroke-width="1.5" />
<line x1="824" y1="196" x2="824" y2="232.4" stroke="#2a2a2a" stroke-width="1.5" />
<line x1="921.5" y1="138" x2="921.5" y2="185" stroke="#2a2a2a" stroke-width="1.5" />
<line x1="921.5" y1="197" x2="921.5" y2="232.4" stroke="#2a2a2a" stroke-width="1.5" />
<line x1="1016.9" y1="140" x2="1016.9" y2="185" stroke="#2a2a2a" stroke-width="1.5" />
<line x1="1016.9" y1="197" x2="1016.9" y2="232.4" stroke="#2a2a2a" stroke-width="1.5" />
<line x1="872.7" y1="154" x2="872.7" y2="232.4" stroke="#444" stroke-width="2.2" />
<line x1="969.4" y1="154" x2="969.4" y2="232.4" stroke="#444" stroke-width="2.2" />
<line x1="772.7" y1="207.7" x2="824" y2="207.7" stroke="#2a2a2a" stroke-width="1.5" />
<line x1="792.3" y1="209" x2="792.3" y2="232.4" stroke="#2a2a2a" stroke-width="1.3" />
<line x1="772.7" y1="229.2" x2="792" y2="229.2" stroke="#2a2a2a" stroke-width="1.0" />
<line x1="921.5" y1="207.7" x2="969" y2="207.7" stroke="#555" stroke-width="1.2" />
<line x1="1016.9" y1="207.7" x2="1062" y2="207.7" stroke="#2a2a2a" stroke-width="1.5" />
<line x1="811" y1="196" x2="824" y2="196" stroke="#2a2a2a" stroke-width="2.0" />
<line x1="921.5" y1="197" x2="934" y2="197" stroke="#2a2a2a" stroke-width="2.0" />
<line x1="1004" y1="197" x2="1016.9" y2="197" stroke="#2a2a2a" stroke-width="2.0" />
<path d="M824.0,196.0 L812.0,196.0 A12,12 0 0 1 824.0,184.0" fill="none" stroke="#8a8a8a" stroke-width="0.7"/>
<path d="M921.5,197.0 L921.5,185.0 A12,12 0 0 1 933.5,197.0" fill="none" stroke="#8a8a8a" stroke-width="0.7"/>
<path d="M1016.9,197.0 L1004.9,197.0 A12,12 0 0 1 1016.9,185.0" fill="none" stroke="#8a8a8a" stroke-width="0.7"/>
<rect x="772" y="139" width="7.600000000000023" height="15.900000000000006" fill="#0a0a0a" />
<rect x="869.6" y="138.4" width="6.899999999999977" height="15.900000000000006" fill="#0a0a0a" />
<rect x="965" y="139.1" width="8.200000000000045" height="15.200000000000017" fill="#0a0a0a" />
<rect x="824.6" y="129.6" width="3.8" height="9.8" fill="#fff" stroke="#444" stroke-width="1.2"/>
<rect x="870.2" y="129.6" width="5.699999999999977" height="9.8" fill="#fff" stroke="#444" stroke-width="1.2"/>
<rect x="917.6" y="129.6" width="3.8" height="9.8" fill="#fff" stroke="#444" stroke-width="1.2"/>
<rect x="965.6" y="129.6" width="7.000000000000045" height="9.8" fill="#fff" stroke="#444" stroke-width="1.2"/>
<rect x="1018.1" y="129.6" width="3.9000000000000226" height="9.8" fill="#fff" stroke="#444" stroke-width="1.2"/>
<polygon points="1062,131 1089,131 1089,118.9 1148,118.9 1148,136 1189.3,136 1189.3,152 1196.9,152 1196.9,220 1189,220 1189,232.4 1065.7,232.4" fill="#c9c9c9" stroke="none" stroke-width="0" />
<polygon points="1062.6,132.8 1091.1,132.8 1091.1,120.8 1139.9,120.8 1139.9,137.9 1189.3,137.9 1189.3,154.3 1194.3,154.3 1194.3,217.8 1188.6,217.8 1188.6,232.4 1065.8,232.4 1065.8,153.7 1062.6,153.7" fill="#f07470" stroke="none" stroke-width="0" />
<rect x="1140.5" y="119.5" width="6.399999999999909" height="17.099999999999984" fill="#fff" stroke="#444" stroke-width="1.2"/>
<line x1="1062.6" y1="132.8" x2="1091.1" y2="132.8" stroke="#2a2a2a" stroke-width="1.6" />
<line x1="1091.1" y1="120.8" x2="1139.9" y2="120.8" stroke="#2a2a2a" stroke-width="1.2" />
<line x1="1147.5" y1="137.9" x2="1189.3" y2="137.9" stroke="#2a2a2a" stroke-width="1.6" />
<line x1="1065.7" y1="153.7" x2="1065.7" y2="232.4" stroke="#2a2a2a" stroke-width="1.8" />
<line x1="1065.8" y1="232.4" x2="1188.6" y2="232.4" stroke="#2a2a2a" stroke-width="1.8" />
<line x1="1188.6" y1="154.3" x2="1188.6" y2="232.4" stroke="#2a2a2a" stroke-width="1.2" />
<line x1="1091.1" y1="137.9" x2="1145" y2="137.9" stroke="#2a2a2a" stroke-width="1.4" />
<line x1="1091.1" y1="133.4" x2="1091.1" y2="175.9" stroke="#2a2a2a" stroke-width="1.5" />
<line x1="1145.6" y1="137.9" x2="1145.6" y2="172" stroke="#2a2a2a" stroke-width="1.5" />
<line x1="1143" y1="186" x2="1189" y2="186" stroke="#2a2a2a" stroke-width="1.5" />
<line x1="1129.7" y1="186" x2="1129.7" y2="232.4" stroke="#2a2a2a" stroke-width="1.5" />
<line x1="1065.8" y1="189.2" x2="1091.6" y2="189.2" stroke="#2a2a2a" stroke-width="1.5" />
<line x1="1091.1" y1="199" x2="1091.1" y2="232.4" stroke="#2a2a2a" stroke-width="1.5" />
<line x1="1070" y1="206" x2="1091" y2="206" stroke="#2a2a2a" stroke-width="1.0" />
<line x1="1194" y1="188.5" x2="1199" y2="188.5" stroke="#666" stroke-width="3" />
<path d="M1091.1,189.2 L1091.1,177.2 A12,12 0 0 1 1103.1,189.2" fill="none" stroke="#8a8a8a" stroke-width="0.7"/>
<path d="M1145.6,186.0 L1158.6,186.0 A13,13 0 0 1 1145.6,199.0" fill="none" stroke="#8a8a8a" stroke-width="0.7"/>
<path d="M1129.7,186.0 L1129.7,199.0 A13,13 0 0 1 1116.7,186.0" fill="none" stroke="#8a8a8a" stroke-width="0.7"/>
<rect x="1181" y="137.9" width="8.299999999999955" height="16.400000000000006" fill="#0a0a0a" />
<rect x="1062" y="133.4" width="7.599999999999909" height="20.299999999999983" fill="#0a0a0a" />
<rect x="966.3" y="255.2" width="7.1" height="95.8" fill="#0a0a0a" />
<rect x="1183" y="249" width="7.2" height="101.2" fill="#0a0a0a" />
<rect x="1020" y="255.2" width="47.5" height="4.5" fill="#0a0a0a" />
<rect x="1020" y="345.7" width="47.5" height="4.5" fill="#0a0a0a" />
<rect x="1020" y="255.2" width="4.5" height="95.0" fill="#0a0a0a" />
<rect x="1063.0" y="255.2" width="4.5" height="13.5" fill="#0a0a0a" />
<rect x="1063.0" y="283.9" width="4.5" height="17.900000000000034" fill="#0a0a0a" />
<rect x="1063.0" y="318.8" width="4.5" height="12.5" fill="#0a0a0a" />
<rect x="1063.0" y="345.7" width="4.5" height="4.5" fill="#0a0a0a" />
<rect x="1025.5" y="260.7" width="36.5" height="30.30000000000001" fill="#f1e0bf" stroke="#aaa" stroke-width="0.6"/>
<line x1="1025.5" y1="260.7" x2="1062.0" y2="291" stroke="#aaa" stroke-width="0.5" />
<line x1="1025.5" y1="291" x2="1062.0" y2="260.7" stroke="#aaa" stroke-width="0.5" />
<rect x="1025.5" y="297" width="36.5" height="29" fill="#f1e0bf" stroke="#aaa" stroke-width="0.6"/>
<line x1="1025.5" y1="297" x2="1062.0" y2="326" stroke="#aaa" stroke-width="0.5" />
<line x1="1025.5" y1="326" x2="1062.0" y2="297" stroke="#aaa" stroke-width="0.5" />
<rect x="1025.5" y="291" width="36.5" height="6" fill="#cfc2a4" />
<rect x="1025.5" y="326" width="36.5" height="3" fill="#bbb0a0" />
<rect x="1104.7" y="255.2" width="46.899999999999864" height="4.5" fill="#0a0a0a" />
<rect x="1104.7" y="345.7" width="46.899999999999864" height="4.5" fill="#0a0a0a" />
<rect x="1104.7" y="255.2" width="4.5" height="46.60000000000002" fill="#0a0a0a" />
<rect x="1104.7" y="318.8" width="4.5" height="12.199999999999989" fill="#0a0a0a" />
<rect x="1104.7" y="345.7" width="4.5" height="4.5" fill="#0a0a0a" />
<rect x="1147.1" y="255.2" width="4.5" height="13.5" fill="#0a0a0a" />
<rect x="1147.1" y="283.9" width="4.5" height="47.400000000000034" fill="#0a0a0a" />
<rect x="1147.1" y="342" width="4.5" height="8.199999999999989" fill="#0a0a0a" />
<rect x="1110.2" y="260.7" width="35.899999999999864" height="30.30000000000001" fill="#f1e0bf" stroke="#aaa" stroke-width="0.6"/>
<line x1="1110.2" y1="260.7" x2="1146.1" y2="291" stroke="#aaa" stroke-width="0.5" />
<line x1="1110.2" y1="291" x2="1146.1" y2="260.7" stroke="#aaa" stroke-width="0.5" />
<rect x="1110.2" y="297" width="35.899999999999864" height="29" fill="#f1e0bf" stroke="#aaa" stroke-width="0.6"/>
<line x1="1110.2" y1="297" x2="1146.1" y2="326" stroke="#aaa" stroke-width="0.5" />
<line x1="1110.2" y1="326" x2="1146.1" y2="297" stroke="#aaa" stroke-width="0.5" />
<rect x="1110.2" y="291" width="35.899999999999864" height="6" fill="#cfc2a4" />
<rect x="1110.2" y="326" width="35.899999999999864" height="3" fill="#bbb0a0" />
<line x1="975" y1="287.0" x2="1018" y2="287.0" stroke="#b8ab90" stroke-width="0.6" />
<line x1="975" y1="290.6" x2="1018" y2="290.6" stroke="#b8ab90" stroke-width="0.6" />
<line x1="975" y1="294.2" x2="1018" y2="294.2" stroke="#b8ab90" stroke-width="0.6" />
<line x1="975" y1="297.8" x2="1018" y2="297.8" stroke="#b8ab90" stroke-width="0.6" />
<line x1="975" y1="301.4" x2="1018" y2="301.4" stroke="#b8ab90" stroke-width="0.6" />
<line x1="975" y1="305.0" x2="1018" y2="305.0" stroke="#b8ab90" stroke-width="0.6" />
<line x1="975" y1="308.6" x2="1018" y2="308.6" stroke="#b8ab90" stroke-width="0.6" />
<line x1="975" y1="312.2" x2="1018" y2="312.2" stroke="#b8ab90" stroke-width="0.6" />
<line x1="975" y1="315.8" x2="1018" y2="315.8" stroke="#b8ab90" stroke-width="0.6" />
<line x1="975" y1="319.4" x2="1018" y2="319.4" stroke="#b8ab90" stroke-width="0.6" />
<line x1="997" y1="287" x2="997" y2="322" stroke="#a89c84" stroke-width="1.4" />
<line x1="978" y1="320" x2="1012" y2="296" stroke="#a89c84" stroke-width="0.8" />
<rect x="1151" y="254" width="32" height="6" fill="#c8bea8" />
<rect x="1189.8" y="248.8" width="49" height="3" fill="#c8c8c8" />
<rect x="1234" y="253" width="48" height="3" fill="#c8c8c8" />
<rect x="1282" y="235.7" width="31.3" height="3" fill="#c8c8c8" />
<rect x="1313" y="228" width="29" height="3" fill="#c8c8c8" />
<rect x="1189.8" y="251.2" width="44.7" height="98" fill="#b4d294" />
<rect x="1234.5" y="254.8" width="47.2" height="94.3" fill="#b4d294" />
<polygon points="1282.3,237.5 1313.3,237.5 1313.3,230.3 1342,230.3 1342,349.1 1284,349.1 1284,253.6 1282.3,253.6" fill="#7ec3b3" stroke="none" stroke-width="0" />
<line x1="1282.3" y1="253.6" x2="1313.3" y2="253.6" stroke="#2a2a2a" stroke-width="1.3" />
<line x1="1313.3" y1="237.5" x2="1313.3" y2="253.6" stroke="#2a2a2a" stroke-width="1.2" />
<line x1="1313.3" y1="236" x2="1342" y2="236" stroke="#4e8a7e" stroke-width="0.8" />
<line x1="1189.8" y1="259" x2="1234" y2="259" stroke="#6b7f5a" stroke-width="0.9" />
<line x1="1234.5" y1="270.3" x2="1281.7" y2="270.3" stroke="#2a2a2a" stroke-width="1.5" />
<line x1="1234" y1="255" x2="1234" y2="296" stroke="#2a2a2a" stroke-width="1.5" />
<line x1="1234" y1="308" x2="1234" y2="349" stroke="#2a2a2a" stroke-width="1.5" />
<line x1="1221" y1="313.3" x2="1234" y2="313.3" stroke="#2a2a2a" stroke-width="2.0" />
<line x1="1189.8" y1="324.6" x2="1234" y2="324.6" stroke="#2a2a2a" stroke-width="1.5" />
<line x1="1201.7" y1="324.6" x2="1201.7" y2="349" stroke="#2a2a2a" stroke-width="1.3" />
<path d="M1234.0,313.3 L1234.0,325.3 A12,12 0 0 1 1222.0,313.3" fill="none" stroke="#8a8a8a" stroke-width="0.7"/>
<line x1="1283.3" y1="268" x2="1283.3" y2="349.1" stroke="#2d4a44" stroke-width="1.8" />
<line x1="1312.7" y1="313.3" x2="1342" y2="313.3" stroke="#2a2a2a" stroke-width="1.5" />
<line x1="1321.7" y1="313.3" x2="1321.7" y2="327" stroke="#2a2a2a" stroke-width="1.5" />
<line x1="1312.7" y1="327" x2="1342" y2="327" stroke="#2a2a2a" stroke-width="1.5" />
<line x1="1312.7" y1="327" x2="1312.7" y2="349" stroke="#2a2a2a" stroke-width="1.5" />
<line x1="1189.8" y1="349.1" x2="1342" y2="349.1" stroke="#2a2a2a" stroke-width="1.6" />
<rect x="1279.3" y="255.4" width="7.7000000000000455" height="13.099999999999994" fill="#0a0a0a" />
<rect x="1279.3" y="342.5" width="15.5" height="7.199999999999989" fill="#0a0a0a" />
<rect x="1339.6" y="255.4" width="2.400000000000091" height="13.099999999999994" fill="#0a0a0a" />
<rect x="1234.6" y="249.4" width="3.5000000000000453" height="7.8" fill="#fff" stroke="#444" stroke-width="1.2"/>
<polygon points="772.9,255.8 965.7,255.8 965.7,358 922,358 922,348.6 824.3,348.6 824.3,358 772.9,358" fill="#b4d294" stroke="none" stroke-width="0" />
<line x1="772.9" y1="255.8" x2="965.7" y2="255.8" stroke="#2a2a2a" stroke-width="1.6" />
<line x1="772.6" y1="255.8" x2="772.6" y2="358" stroke="#2a2a2a" stroke-width="1.8" />
<line x1="772.9" y1="279.9" x2="824" y2="279.9" stroke="#2a2a2a" stroke-width="1.5" />
<line x1="792.3" y1="255.8" x2="792.3" y2="279.9" stroke="#2a2a2a" stroke-width="1.3" />
<line x1="921.5" y1="279.9" x2="965.7" y2="279.9" stroke="#2a2a2a" stroke-width="1.5" />
<line x1="953" y1="255.8" x2="953" y2="279.9" stroke="#2a2a2a" stroke-width="1.2" />
<line x1="824.3" y1="255.8" x2="824.3" y2="290.3" stroke="#2a2a2a" stroke-width="1.5" />
<line x1="824.3" y1="304.8" x2="824.3" y2="348.6" stroke="#2a2a2a" stroke-width="1.5" />
<line x1="921.1" y1="255.8" x2="921.1" y2="290.3" stroke="#2a2a2a" stroke-width="1.5" />
<line x1="921.1" y1="304.8" x2="921.1" y2="348.6" stroke="#2a2a2a" stroke-width="1.5" />
<line x1="873.1" y1="271" x2="873.1" y2="335.7" stroke="#444" stroke-width="2.2" />
<line x1="824.3" y1="335.7" x2="921.1" y2="335.7" stroke="#2a2a2a" stroke-width="1.5" />
<line x1="811" y1="290.3" x2="824.3" y2="290.3" stroke="#2a2a2a" stroke-width="2.0" />
<line x1="921.1" y1="290.3" x2="934" y2="290.3" stroke="#2a2a2a" stroke-width="2.0" />
<path d="M824.3,290.3 L824.3,302.3 A12,12 0 0 1 812.3,290.3" fill="none" stroke="#8a8a8a" stroke-width="0.7"/>
<path d="M921.1,290.3 L933.1,290.3 A12,12 0 0 1 921.1,302.3" fill="none" stroke="#8a8a8a" stroke-width="0.7"/>
<line x1="772.9" y1="348.6" x2="965" y2="348.6" stroke="#556" stroke-width="1.0" />
<rect x="772" y="256.4" width="7.600000000000023" height="15.200000000000045" fill="#0a0a0a" />
<rect x="868.3" y="256.4" width="8.900000000000091" height="14.600000000000023" fill="#0a0a0a" />
<rect x="772.9" y="334.8" width="7.7000000000000455" height="15.5" fill="#0a0a0a" />
<rect x="868.8" y="335.7" width="8.600000000000023" height="12.900000000000034" fill="#0a0a0a" />
<rect x="824.9" y="349.20000000000005" width="3.9000000000000226" height="10.699999999999978" fill="#fff" stroke="#444" stroke-width="1.2"/>
<rect x="870.3000000000001" y="349.20000000000005" width="5.599999999999954" height="10.699999999999978" fill="#fff" stroke="#444" stroke-width="1.2"/>
<rect x="917.4" y="349.20000000000005" width="4.000000000000045" height="10.699999999999978" fill="#fff" stroke="#444" stroke-width="1.2"/>
<rect x="968.0" y="349.20000000000005" width="3.9000000000000226" height="10.699999999999978" fill="#fff" stroke="#444" stroke-width="1.2"/>
<line x1="824" y1="232.4" x2="872" y2="232.4" stroke="#2a2a2a" stroke-width="1.6" />
<line x1="872" y1="232.4" x2="1065" y2="232.4" stroke="#2a2a2a" stroke-width="1.6" />
<polygon points="966.2,373.1 1090.9,373.1 1090.9,469.9 1064.7,469.9 1064.7,467.4 1063.4,467.4 1063.4,484.5 1014,484.5 1014,467.4 964,467.4 964,450.9 958.1,450.9 958.1,387 966.2,387" fill="#f07470" stroke="none" stroke-width="0" />
<rect x="955" y="384" width="5" height="70" fill="none" stroke="#bbb" stroke-width="0.8"/>
<rect x="1010.9" y="467.4" width="54.4" height="20.2" fill="none" stroke="#bbb" stroke-width="0.8"/>
<line x1="966.2" y1="373.1" x2="1090.9" y2="373.1" stroke="#2a2a2a" stroke-width="1.6" />
<line x1="966.2" y1="373.1" x2="966.2" y2="387" stroke="#2a2a2a" stroke-width="1.5" />
<line x1="1090.9" y1="373.1" x2="1090.9" y2="469.9" stroke="#2a2a2a" stroke-width="1.6" />
<line x1="964" y1="467.4" x2="1064.7" y2="467.4" stroke="#2a2a2a" stroke-width="1.6" />
<line x1="1028.2" y1="373.1" x2="1028.2" y2="419.8" stroke="#2a2a2a" stroke-width="1.5" />
<line x1="958" y1="419.8" x2="1013.6" y2="419.8" stroke="#2a2a2a" stroke-width="1.5" />
<line x1="1012.9" y1="432" x2="1012.9" y2="467.4" stroke="#2a2a2a" stroke-width="1.5" />
<line x1="1064.7" y1="373.1" x2="1064.7" y2="416.9" stroke="#2a2a2a" stroke-width="1.5" />
<line x1="1064.7" y1="429" x2="1064.7" y2="467.4" stroke="#2a2a2a" stroke-width="1.5" />
<line x1="1064.7" y1="416.9" x2="1090.9" y2="416.9" stroke="#2a2a2a" stroke-width="1.5" />
<line x1="1064.7" y1="451.9" x2="1090.9" y2="451.9" stroke="#2a2a2a" stroke-width="1.2" />
<line x1="955" y1="419.8" x2="960" y2="419.8" stroke="#666" stroke-width="3" />
<path d="M1028.2,419.8 L1015.2,419.8 A13,13 0 0 1 1028.2,406.8" fill="none" stroke="#8a8a8a" stroke-width="0.7"/>
<path d="M1012.9,419.8 L1012.9,432.8 A13,13 0 0 1 999.9,419.8" fill="none" stroke="#8a8a8a" stroke-width="0.7"/>
<path d="M1064.7,416.9 L1076.7,416.9 A12,12 0 0 1 1064.7,428.9" fill="none" stroke="#8a8a8a" stroke-width="0.7"/>
<rect x="964" y="451.5" width="8.200000000000045" height="15.899999999999977" fill="#0a0a0a" />
<rect x="1085.6" y="452.2" width="8.900000000000091" height="15.800000000000011" fill="#0a0a0a" />
<rect x="1011.5" y="468.6" width="5.100000000000068" height="17.8" fill="#fff" stroke="#444" stroke-width="1.2"/>
<rect x="1086.8" y="468.6" width="6.399999999999909" height="18.400000000000023" fill="#fff" stroke="#444" stroke-width="1.2"/>
<line x1="1090.9" y1="372.4" x2="1342" y2="372.4" stroke="#2a2a2a" stroke-width="1.6" />
<rect x="1091.7" y="373" width="46.5" height="93.7" fill="#b4d294" />
<rect x="1138.2" y="373" width="95.6" height="100.8" fill="#b4d294" />
<rect x="1234.4" y="373" width="47.1" height="93.5" fill="#b4d294" />
<line x1="1138.2" y1="373" x2="1138.2" y2="409" stroke="#2a2a2a" stroke-width="1.5" />
<line x1="1138.2" y1="421" x2="1138.2" y2="473.8" stroke="#2a2a2a" stroke-width="1.5" />
<line x1="1233.8" y1="373" x2="1233.8" y2="409" stroke="#2a2a2a" stroke-width="1.5" />
<line x1="1233.8" y1="421" x2="1233.8" y2="473.8" stroke="#2a2a2a" stroke-width="1.5" />
<line x1="1186.3" y1="379" x2="1186.3" y2="465" stroke="#444" stroke-width="2.2" />
<line x1="1138.2" y1="396.7" x2="1233.8" y2="396.7" stroke="#2a2a2a" stroke-width="1.5" />
<line x1="1170.5" y1="373" x2="1170.5" y2="396.7" stroke="#2a2a2a" stroke-width="1.2" />
<line x1="1202.2" y1="373" x2="1202.2" y2="396.7" stroke="#2a2a2a" stroke-width="1.2" />
<line x1="1091.7" y1="452.4" x2="1138.2" y2="452.4" stroke="#2a2a2a" stroke-width="1.5" />
<line x1="1234.4" y1="452.6" x2="1281.5" y2="452.6" stroke="#2a2a2a" stroke-width="1.5" />
<line x1="1138.2" y1="409" x2="1151" y2="409" stroke="#2a2a2a" stroke-width="2.0" />
<line x1="1220.5" y1="409" x2="1233.8" y2="409" stroke="#2a2a2a" stroke-width="2.0" />
<path d="M1138.2,409.0 L1150.2,409.0 A12,12 0 0 1 1138.2,421.0" fill="none" stroke="#8a8a8a" stroke-width="0.7"/>
<path d="M1233.8,409.0 L1233.8,421.0 A12,12 0 0 1 1221.8,409.0" fill="none" stroke="#8a8a8a" stroke-width="0.7"/>
<line x1="1091.7" y1="466.7" x2="1138" y2="466.7" stroke="#888" stroke-width="0.9" />
<line x1="1234.4" y1="466.5" x2="1281.5" y2="466.5" stroke="#888" stroke-width="0.9" />
<line x1="1138.2" y1="473.8" x2="1233.1" y2="473.8" stroke="#666" stroke-width="1.0" />
<rect x="1183.2" y="450" width="5.7000000000000455" height="16" fill="#0a0a0a" />
<rect x="1183.3" y="451.4" width="5.2999999999999545" height="15.100000000000023" fill="#0a0a0a" />
<rect x="1134.6" y="466.6" width="4.3" height="8.8" fill="#fff" stroke="#444" stroke-width="1.2"/>
<rect x="1184.1" y="466.6" width="4.3" height="9.8" fill="#fff" stroke="#444" stroke-width="1.2"/>
<rect x="1233.6" y="466.6" width="3.8" height="8.8" fill="#fff" stroke="#444" stroke-width="1.2"/>
<polygon points="1282.8,372.4 1342,372.4 1342,491.7 1313.3,491.7 1313.3,485.7 1282.8,485.7" fill="#7ec3b3" stroke="none" stroke-width="0" />
<line x1="1282.8" y1="469.8" x2="1313.3" y2="469.8" stroke="#2a2a2a" stroke-width="1.3" />
<line x1="1313.3" y1="469.8" x2="1313.3" y2="491.7" stroke="#2a2a2a" stroke-width="1.2" />
<line x1="1282.8" y1="485.7" x2="1313.3" y2="485.7" stroke="#777" stroke-width="1.0" />
<line x1="1313.3" y1="491.7" x2="1342" y2="491.7" stroke="#777" stroke-width="1.0" />
<line x1="1283" y1="372.4" x2="1283" y2="470" stroke="#2d4a44" stroke-width="1.8" />
<line x1="1312.7" y1="387" x2="1342" y2="387" stroke="#2a2a2a" stroke-width="1.5" />
<line x1="1312.7" y1="400" x2="1342" y2="400" stroke="#2a2a2a" stroke-width="1.5" />
<line x1="1321.7" y1="387" x2="1321.7" y2="400" stroke="#2a2a2a" stroke-width="1.5" />
<rect x="1281.5" y="457.2" width="7.2999999999999545" height="12.600000000000023" fill="#0a0a0a" />
<rect x="1339.9" y="457.8" width="2.099999999999909" height="16.19999999999999" fill="#0a0a0a" />
<text x="845.8" y="177.29999999999998" font-size="10.83" font-weight="bold" fill="#111" textLength="7.0" lengthAdjust="spacingAndGlyphs" stroke="#111" stroke-width="0.35" >A</text>
<text x="839.2" y="187.8" font-size="11.39" font-weight="bold" fill="#111" textLength="20.199999999999932" lengthAdjust="spacingAndGlyphs" stroke="#111" stroke-width="0.35" >801</text>
<text x="943.1" y="177.29999999999998" font-size="10.83" font-weight="bold" fill="#111" textLength="7.0" lengthAdjust="spacingAndGlyphs" stroke="#111" stroke-width="0.35" >A</text>
<text x="936.5" y="187.8" font-size="11.39" font-weight="bold" fill="#111" textLength="21.5" lengthAdjust="spacingAndGlyphs" stroke="#111" stroke-width="0.35" >802</text>
<text x="989.3" y="177.29999999999998" font-size="10.83" font-weight="bold" fill="#111" textLength="7.0" lengthAdjust="spacingAndGlyphs" stroke="#111" stroke-width="0.35" >A</text>
<text x="982" y="187.8" font-size="11.39" font-weight="bold" fill="#111" textLength="21.600000000000023" lengthAdjust="spacingAndGlyphs" stroke="#111" stroke-width="0.35" >803</text>
<text x="1109.8" y="177.29999999999998" font-size="10.83" font-weight="bold" fill="#111" textLength="7.0" lengthAdjust="spacingAndGlyphs" stroke="#111" stroke-width="0.35" >B</text>
<text x="1103.1" y="187.8" font-size="8.61" font-weight="bold" fill="#111" textLength="20.90000000000009" lengthAdjust="spacingAndGlyphs" stroke="#111" stroke-width="0.35" >804</text>
<text x="845.6" y="300.3" font-size="10.83" font-weight="bold" fill="#111" textLength="7.0" lengthAdjust="spacingAndGlyphs" stroke="#111" stroke-width="0.35" >A</text>
<text x="839.7" y="310" font-size="9.58" font-weight="bold" fill="#111" textLength="21.399999999999977" lengthAdjust="spacingAndGlyphs" stroke="#111" stroke-width="0.35" >805</text>
<text x="894.5" y="300.3" font-size="10.83" font-weight="bold" fill="#111" textLength="7.0" lengthAdjust="spacingAndGlyphs" stroke="#111" stroke-width="0.35" >A</text>
<text x="888.5" y="310" font-size="9.58" font-weight="bold" fill="#111" textLength="20.600000000000023" lengthAdjust="spacingAndGlyphs" stroke="#111" stroke-width="0.35" >806</text>
<text x="1253.7" y="300.59999999999997" font-size="10.83" font-weight="bold" fill="#111" textLength="7.0" lengthAdjust="spacingAndGlyphs" stroke="#111" stroke-width="0.35" >A</text>
<text x="1247.7" y="309.7" font-size="10.0" font-weight="bold" fill="#111" textLength="20.299999999999955" lengthAdjust="spacingAndGlyphs" stroke="#111" stroke-width="0.35" >807</text>
<text x="1312.8" y="300.59999999999997" font-size="10.83" font-weight="bold" fill="#111" textLength="7.0" lengthAdjust="spacingAndGlyphs" stroke="#111" stroke-width="0.35" >C</text>
<text x="1306.2" y="309.7" font-size="10.0" font-weight="bold" fill="#111" textLength="20.299999999999955" lengthAdjust="spacingAndGlyphs" stroke="#111" stroke-width="0.35" >808</text>
<text x="1032.7" y="437.0" font-size="10.83" font-weight="bold" fill="#111" textLength="7.0" lengthAdjust="spacingAndGlyphs" stroke="#111" stroke-width="0.35" >B</text>
<text x="1026.7" y="447.6" font-size="9.17" font-weight="bold" fill="#111" textLength="19.0" lengthAdjust="spacingAndGlyphs" stroke="#111" stroke-width="0.35" >811</text>
<text x="1160.7" y="437.4" font-size="10.83" font-weight="bold" fill="#111" textLength="7.0" lengthAdjust="spacingAndGlyphs" stroke="#111" stroke-width="0.35" >A</text>
<text x="1154" y="447.3" font-size="10.56" font-weight="bold" fill="#111" textLength="21.59999999999991" lengthAdjust="spacingAndGlyphs" stroke="#111" stroke-width="0.35" >812</text>
<text x="1206.3" y="437.4" font-size="10.83" font-weight="bold" fill="#111" textLength="7.0" lengthAdjust="spacingAndGlyphs" stroke="#111" stroke-width="0.35" >A</text>
<text x="1199.6" y="447.3" font-size="10.56" font-weight="bold" fill="#111" textLength="20.90000000000009" lengthAdjust="spacingAndGlyphs" stroke="#111" stroke-width="0.35" >813</text>
<text x="1309.8" y="437.3" font-size="10.83" font-weight="bold" fill="#111" textLength="7.0" lengthAdjust="spacingAndGlyphs" stroke="#111" stroke-width="0.35" >C</text>
<text x="1302.7" y="447.2" font-size="10.0" font-weight="bold" fill="#111" textLength="21.899999999999864" lengthAdjust="spacingAndGlyphs" stroke="#111" stroke-width="0.35" >814</text>
<path d="M1067.5,345.7 L1067.5,332.7 A13,13 0 0 1 1080.5,345.7" fill="none" stroke="#8a8a8a" stroke-width="0.7"/>
<path d="M1151.6,342.0 L1151.6,331.0 A11,11 0 0 1 1162.6,342.0" fill="none" stroke="#8a8a8a" stroke-width="0.7"/>
<rect x="1166" y="316" width="14" height="31" fill="none" stroke="#555" stroke-width="1.2"/>
<rect x="1000" y="255.5" width="20" height="8" fill="#cfc3aa" />
<rect x="995.5" y="287" width="2.5" height="36" fill="#8f8775" />
<line x1="975" y1="327" x2="1018" y2="327" stroke="#999" stroke-width="0.6" stroke-dasharray="1.5,1.5"/>
<path d="M973.4,255.5 L985.4,255.5 A12,12 0 0 1 973.4,267.5" fill="none" stroke="#8a8a8a" stroke-width="0.7"/>
<text x="810.5" y="69.5" font-size="11.39" font-weight="bold" fill="#111" textLength="37.5" lengthAdjust="spacingAndGlyphs" stroke="#111" stroke-width="0.35" >6.675</text>
<text x="906.8" y="69.5" font-size="11.39" font-weight="bold" fill="#111" textLength="29.600000000000023" lengthAdjust="spacingAndGlyphs" stroke="#111" stroke-width="0.35" >6.40</text>
<text x="1004.5" y="69.5" font-size="11.39" font-weight="bold" fill="#111" textLength="29.5" lengthAdjust="spacingAndGlyphs" stroke="#111" stroke-width="0.35" >6.40</text>
<text x="1078.6" y="69.5" font-size="11.39" font-weight="bold" fill="#111" textLength="37.100000000000136" lengthAdjust="spacingAndGlyphs" stroke="#111" stroke-width="0.35" >4.075</text>
<text x="1138.7" y="69.5" font-size="11.39" font-weight="bold" fill="#111" textLength="29.5" lengthAdjust="spacingAndGlyphs" stroke="#111" stroke-width="0.35" >4.20</text>
<text x="1224.3" y="69.5" font-size="11.39" font-weight="bold" fill="#111" textLength="29.100000000000136" lengthAdjust="spacingAndGlyphs" stroke="#111" stroke-width="0.35" >6.00</text>
<text x="1296" y="69.5" font-size="11.39" font-weight="bold" fill="#111" textLength="36.700000000000045" lengthAdjust="spacingAndGlyphs" stroke="#111" stroke-width="0.35" >4.125</text>
<rect x="775.1" y="47.5" width="3.2" height="29.5" fill="#111" />
<rect x="870.9" y="47.5" width="3.2" height="29.5" fill="#111" />
<rect x="969.1" y="47.5" width="3.2" height="29.5" fill="#111" />
<rect x="1064.5" y="47.5" width="3.2" height="29.5" fill="#111" />
<rect x="1125.8000000000002" y="47.5" width="3.2" height="29.5" fill="#111" />
<rect x="1184.7" y="47.5" width="3.2" height="29.5" fill="#111" />
<rect x="1285.3000000000002" y="47.5" width="3.2" height="29.5" fill="#111" />
<rect x="1339.9" y="47.5" width="3.2" height="29.5" fill="#111" />
<text x="789.7" y="93.2" font-size="11.39" font-weight="bold" fill="#111" textLength="36.299999999999955" lengthAdjust="spacingAndGlyphs" stroke="#111" stroke-width="0.35" >TYPE A</text>
<text x="790.4" y="106" font-size="11.39" font-weight="bold" fill="#111" textLength="65.89999999999998" lengthAdjust="spacingAndGlyphs" stroke="#111" stroke-width="0.35" >37.50 sq.m.</text>
<text x="891.3" y="93.2" font-size="11.39" font-weight="bold" fill="#111" textLength="36.700000000000045" lengthAdjust="spacingAndGlyphs" stroke="#111" stroke-width="0.35" >TYPE A</text>
<text x="891.8" y="106" font-size="11.39" font-weight="bold" fill="#111" textLength="66.20000000000005" lengthAdjust="spacingAndGlyphs" stroke="#111" stroke-width="0.35" >37.50 sq.m.</text>
<text x="983" y="93.2" font-size="11.39" font-weight="bold" fill="#111" textLength="37" lengthAdjust="spacingAndGlyphs" stroke="#111" stroke-width="0.35" >TYPE A</text>
<text x="983.5" y="106" font-size="11.39" font-weight="bold" fill="#111" textLength="66.5" lengthAdjust="spacingAndGlyphs" stroke="#111" stroke-width="0.35" >37.50 sq.m.</text>
<text x="1094.9" y="93.2" font-size="11.39" font-weight="bold" fill="#111" textLength="36.299999999999955" lengthAdjust="spacingAndGlyphs" stroke="#111" stroke-width="0.35" >TYPE B</text>
<text x="1094.9" y="106" font-size="11.39" font-weight="bold" fill="#111" textLength="65.79999999999995" lengthAdjust="spacingAndGlyphs" stroke="#111" stroke-width="0.35" >54.50 sq.m.</text>
<text x="1204" y="210.2" font-size="11.39" font-weight="bold" fill="#111" textLength="36.59999999999991" lengthAdjust="spacingAndGlyphs" stroke="#111" stroke-width="0.35" >TYPE A</text>
<text x="1204.7" y="223" font-size="11.39" font-weight="bold" fill="#111" textLength="65.70000000000005" lengthAdjust="spacingAndGlyphs" stroke="#111" stroke-width="0.35" >37.50 sq.m.</text>
<text x="1277" y="210.2" font-size="11.39" font-weight="bold" fill="#111" textLength="37.09999999999991" lengthAdjust="spacingAndGlyphs" stroke="#111" stroke-width="0.35" >TYPE C</text>
<text x="1278" y="223" font-size="11.39" font-weight="bold" fill="#111" textLength="64" lengthAdjust="spacingAndGlyphs" stroke="#111" stroke-width="0.35" >30.00 sq.m.</text>
<text x="778.5" y="381.8" font-size="11.39" font-weight="bold" fill="#111" textLength="36.299999999999955" lengthAdjust="spacingAndGlyphs" stroke="#111" stroke-width="0.35" >TYPE A</text>
<text x="778.9" y="394.6" font-size="11.39" font-weight="bold" fill="#111" textLength="65.89999999999998" lengthAdjust="spacingAndGlyphs" stroke="#111" stroke-width="0.35" >37.50 sq.m.</text>
<text x="880" y="381.8" font-size="11.39" font-weight="bold" fill="#111" textLength="36.799999999999955" lengthAdjust="spacingAndGlyphs" stroke="#111" stroke-width="0.35" >TYPE A</text>
<text x="880.8" y="394.6" font-size="11.39" font-weight="bold" fill="#111" textLength="65.20000000000005" lengthAdjust="spacingAndGlyphs" stroke="#111" stroke-width="0.35" >37.50 sq.m.</text>
<text x="957.7" y="494.7" font-size="11.39" font-weight="bold" fill="#111" textLength="36.09999999999991" lengthAdjust="spacingAndGlyphs" stroke="#111" stroke-width="0.35" >TYPE B</text>
<text x="957.7" y="507.5" font-size="11.39" font-weight="bold" fill="#111" textLength="65.79999999999995" lengthAdjust="spacingAndGlyphs" stroke="#111" stroke-width="0.35" >54.50 sq.m.</text>
<text x="1114.6" y="495.2" font-size="11.39" font-weight="bold" fill="#111" textLength="36.600000000000136" lengthAdjust="spacingAndGlyphs" stroke="#111" stroke-width="0.35" >TYPE A</text>
<text x="1115.3" y="508" font-size="11.39" font-weight="bold" fill="#111" textLength="65.90000000000009" lengthAdjust="spacingAndGlyphs" stroke="#111" stroke-width="0.35" >37.50 sq.m.</text>
<text x="1199.2" y="495.7" font-size="11.39" font-weight="bold" fill="#111" textLength="36.5" lengthAdjust="spacingAndGlyphs" stroke="#111" stroke-width="0.35" >TYPE A</text>
<text x="1199.2" y="508.5" font-size="11.39" font-weight="bold" fill="#111" textLength="66.39999999999986" lengthAdjust="spacingAndGlyphs" stroke="#111" stroke-width="0.35" >37.50 sq.m.</text>
<text x="1272.9" y="510.7" font-size="11.39" font-weight="bold" fill="#111" textLength="36.5" lengthAdjust="spacingAndGlyphs" stroke="#111" stroke-width="0.35" >TYPE C</text>
<text x="1273.5" y="523.5" font-size="11.39" font-weight="bold" fill="#111" textLength="68.5" lengthAdjust="spacingAndGlyphs" stroke="#111" stroke-width="0.35" >30.00 sq.m.</text>
<rect x="709.8" y="127.3" width="34.5" height="2.6" fill="#111" />
<rect x="709.8" y="141.39999999999998" width="34.5" height="2.6" fill="#111" />
<rect x="709.8" y="232.7" width="34.5" height="2.6" fill="#111" />
<rect x="709.8" y="255.2" width="34.5" height="2.6" fill="#111" />
<rect x="709.8" y="345.09999999999997" width="34.5" height="2.6" fill="#111" />
<rect x="709.8" y="360.5" width="34.5" height="2.6" fill="#111" />
<rect x="709.8" y="373.2" width="34.5" height="2.6" fill="#111" />
<rect x="709.8" y="468.0" width="34.5" height="2.6" fill="#111" />
<rect x="709.8" y="487.3" width="34.5" height="2.6" fill="#111" />
<text x="711.5" y="139.4" font-size="9.44" font-weight="bold" fill="#111" textLength="31.0" lengthAdjust="spacingAndGlyphs" stroke="#111" stroke-width="0.35" >0.70</text>
<text x="710.6" y="193" font-size="10.42" font-weight="bold" fill="#111" textLength="28.899999999999977" lengthAdjust="spacingAndGlyphs" stroke="#111" stroke-width="0.35" >6.30</text>
<text x="710.6" y="304" font-size="10.42" font-weight="bold" fill="#111" textLength="28.899999999999977" lengthAdjust="spacingAndGlyphs" stroke="#111" stroke-width="0.35" >6.30</text>
<text x="711.5" y="357.6" font-size="9.44" font-weight="bold" fill="#111" textLength="31.0" lengthAdjust="spacingAndGlyphs" stroke="#111" stroke-width="0.35" >0.70</text>
<text x="711.5" y="371.6" font-size="9.44" font-weight="bold" fill="#111" textLength="31.0" lengthAdjust="spacingAndGlyphs" stroke="#111" stroke-width="0.35" >0.80</text>
<text x="711" y="427" font-size="10.69" font-weight="bold" fill="#111" textLength="28.799999999999955" lengthAdjust="spacingAndGlyphs" stroke="#111" stroke-width="0.35" >6.45</text>
<text x="712" y="483" font-size="10.28" font-weight="bold" fill="#111" textLength="27.5" lengthAdjust="spacingAndGlyphs" stroke="#111" stroke-width="0.35" >1.25</text>
<text x="1012.5" y="568.5" font-size="10.42" font-weight="bold" fill="#111" textLength="35.799999999999955" lengthAdjust="spacingAndGlyphs" stroke="#111" stroke-width="0.35" >8.275</text>
<text x="1119.5" y="568.5" font-size="10.42" font-weight="bold" fill="#111" textLength="28.40000000000009" lengthAdjust="spacingAndGlyphs" stroke="#111" stroke-width="0.35" >6.40</text>
<text x="1222.5" y="568.5" font-size="10.42" font-weight="bold" fill="#111" textLength="28.90000000000009" lengthAdjust="spacingAndGlyphs" stroke="#111" stroke-width="0.35" >6.40</text>
<text x="1300" y="568.5" font-size="10.42" font-weight="bold" fill="#111" textLength="28.59999999999991" lengthAdjust="spacingAndGlyphs" stroke="#111" stroke-width="0.35" >4.00</text>
<rect x="1089.5" y="549" width="3.2" height="33.3" fill="#111" />
<rect x="1185.1000000000001" y="549" width="3.2" height="33.3" fill="#111" />
<rect x="1279.7" y="549" width="3.2" height="33.3" fill="#111" />
<rect x="952.9000000000001" y="549" width="2.6" height="33.3" fill="#111" />
<rect x="962.9000000000001" y="549" width="2.6" height="33.3" fill="#111" />
<text x="946.5" y="594.2" font-size="9.72" font-weight="bold" fill="#111" textLength="27.0" lengthAdjust="spacingAndGlyphs" stroke="#111" stroke-width="0.35" >0.70</text>
<g transform="rotate(0 331 239.5)"><ellipse cx="331" cy="239.5" rx="2.3" ry="3.3" fill="none" stroke="#6d6d6d" stroke-width="0.7"/><rect x="328" y="243.7" width="6" height="1.6" fill="none" stroke="#6d6d6d" stroke-width="0.6"/></g>
<g transform="rotate(0 395 239.5)"><ellipse cx="395" cy="239.5" rx="2.3" ry="3.3" fill="none" stroke="#6d6d6d" stroke-width="0.7"/><rect x="392" y="243.7" width="6" height="1.6" fill="none" stroke="#6d6d6d" stroke-width="0.6"/></g>
<circle cx="341" cy="244" r="2" fill="none" stroke="#6d6d6d" stroke-width="0.7"/>
<circle cx="387" cy="244" r="2" fill="none" stroke="#6d6d6d" stroke-width="0.7"/>
<g transform="rotate(0 524 239.5)"><ellipse cx="524" cy="239.5" rx="2.3" ry="3.3" fill="none" stroke="#6d6d6d" stroke-width="0.7"/><rect x="521" y="243.7" width="6" height="1.6" fill="none" stroke="#6d6d6d" stroke-width="0.6"/></g>
<circle cx="517" cy="244" r="2" fill="none" stroke="#6d6d6d" stroke-width="0.7"/>
<line x1="352" y1="227" x2="362" y2="240" stroke="#7a7a7a" stroke-width="0.6" />
<line x1="366" y1="227" x2="376" y2="240" stroke="#7a7a7a" stroke-width="0.6" />
<line x1="542" y1="227" x2="556" y2="244" stroke="#7a7a7a" stroke-width="0.6" />
<rect x="380" y="243.5" width="14" height="4" fill="none" stroke="#8a8a8a" stroke-width="0.6"/>
<rect x="425" y="243.5" width="14" height="4" fill="none" stroke="#8a8a8a" stroke-width="0.6"/>
<rect x="470" y="243.5" width="14" height="4" fill="none" stroke="#8a8a8a" stroke-width="0.6"/>
<g transform="rotate(0 387 284.5)"><ellipse cx="387" cy="284.5" rx="2.3" ry="3.3" fill="none" stroke="#6d6d6d" stroke-width="0.7"/><rect x="384" y="279.1" width="6" height="1.6" fill="none" stroke="#6d6d6d" stroke-width="0.6"/></g>
<circle cx="402" cy="278.5" r="2" fill="none" stroke="#6d6d6d" stroke-width="0.7"/>
<line x1="369" y1="277" x2="377" y2="293" stroke="#7a7a7a" stroke-width="0.6" />
<g transform="rotate(0 532 284.5)"><ellipse cx="532" cy="284.5" rx="2.3" ry="3.3" fill="none" stroke="#6d6d6d" stroke-width="0.7"/><rect x="529" y="279.1" width="6" height="1.6" fill="none" stroke="#6d6d6d" stroke-width="0.6"/></g>
<circle cx="518" cy="278.5" r="2" fill="none" stroke="#6d6d6d" stroke-width="0.7"/>
<line x1="542" y1="277" x2="556" y2="293" stroke="#7a7a7a" stroke-width="0.6" />
<rect x="416" y="275" width="14" height="4" fill="none" stroke="#8a8a8a" stroke-width="0.6"/>
<rect x="464" y="275" width="14" height="4" fill="none" stroke="#8a8a8a" stroke-width="0.6"/>
<g transform="rotate(0 124.5 359)"><ellipse cx="124.5" cy="359" rx="2.3" ry="3.3" fill="none" stroke="#6d6d6d" stroke-width="0.7"/><rect x="121.5" y="353.6" width="6" height="1.6" fill="none" stroke="#6d6d6d" stroke-width="0.6"/></g>
<circle cx="110.3" cy="362" r="2" fill="none" stroke="#6d6d6d" stroke-width="0.7"/>
<line x1="135" y1="347" x2="143" y2="365" stroke="#7a7a7a" stroke-width="0.6" />
<rect x="77.5" y="358" width="21" height="5" fill="none" stroke="#8a8a8a" stroke-width="0.6"/>
<g transform="rotate(0 11.5 360)"><ellipse cx="11.5" cy="360" rx="2.3" ry="3.3" fill="none" stroke="#6d6d6d" stroke-width="0.7"/><rect x="8.5" y="354.6" width="6" height="1.6" fill="none" stroke="#6d6d6d" stroke-width="0.6"/></g>
<line x1="3" y1="333" x2="12" y2="344" stroke="#7a7a7a" stroke-width="0.6" />
<line x1="14" y1="348" x2="22" y2="365" stroke="#7a7a7a" stroke-width="0.6" />
<g transform="rotate(0 123.7 401.5)"><ellipse cx="123.7" cy="401.5" rx="2.3" ry="3.3" fill="none" stroke="#6d6d6d" stroke-width="0.7"/><rect x="120.7" y="405.7" width="6" height="1.6" fill="none" stroke="#6d6d6d" stroke-width="0.6"/></g>
<g transform="rotate(0 172.9 401.5)"><ellipse cx="172.9" cy="401.5" rx="2.3" ry="3.3" fill="none" stroke="#6d6d6d" stroke-width="0.7"/><rect x="169.9" y="405.7" width="6" height="1.6" fill="none" stroke="#6d6d6d" stroke-width="0.6"/></g>
<circle cx="110" cy="396.5" r="2" fill="none" stroke="#6d6d6d" stroke-width="0.7"/>
<circle cx="186" cy="396.5" r="2" fill="none" stroke="#6d6d6d" stroke-width="0.7"/>
<line x1="136" y1="397" x2="146" y2="412" stroke="#7a7a7a" stroke-width="0.6" />
<line x1="150" y1="397" x2="160" y2="412" stroke="#7a7a7a" stroke-width="0.6" />
<rect x="56" y="394" width="21" height="5" fill="none" stroke="#8a8a8a" stroke-width="0.6"/>
<g transform="rotate(0 14 397)"><ellipse cx="14" cy="397" rx="2.3" ry="3.3" fill="none" stroke="#6d6d6d" stroke-width="0.7"/><rect x="11" y="401.2" width="6" height="1.6" fill="none" stroke="#6d6d6d" stroke-width="0.6"/></g>
<line x1="3" y1="416" x2="12" y2="427" stroke="#7a7a7a" stroke-width="0.6" />
<g transform="rotate(0 259 213)"><ellipse cx="259" cy="213" rx="2.3" ry="3.3" fill="none" stroke="#6d6d6d" stroke-width="0.7"/><rect x="256" y="207.60000000000002" width="6" height="1.6" fill="none" stroke="#6d6d6d" stroke-width="0.6"/></g>
<circle cx="259" cy="224" r="2" fill="none" stroke="#6d6d6d" stroke-width="0.7"/>
<line x1="247" y1="236" x2="258" y2="247" stroke="#7a7a7a" stroke-width="0.6" />
<g transform="rotate(0 258 421)"><ellipse cx="258" cy="421" rx="2.3" ry="3.3" fill="none" stroke="#6d6d6d" stroke-width="0.7"/><rect x="255" y="415.6" width="6" height="1.6" fill="none" stroke="#6d6d6d" stroke-width="0.6"/></g>
<circle cx="258" cy="430" r="2" fill="none" stroke="#6d6d6d" stroke-width="0.7"/>
<line x1="247" y1="395" x2="258" y2="405" stroke="#7a7a7a" stroke-width="0.6" />
<line x1="248" y1="476" x2="258" y2="488" stroke="#7a7a7a" stroke-width="0.6" />
<g transform="rotate(0 806 220)"><ellipse cx="806" cy="220" rx="2.3" ry="3.3" fill="none" stroke="#6d6d6d" stroke-width="0.7"/><rect x="803" y="224.2" width="6" height="1.6" fill="none" stroke="#6d6d6d" stroke-width="0.6"/></g>
<circle cx="817" cy="226" r="2" fill="none" stroke="#6d6d6d" stroke-width="0.7"/>
<line x1="775" y1="210" x2="790" y2="228" stroke="#7a7a7a" stroke-width="0.6" />
<g transform="rotate(0 946 220)"><ellipse cx="946" cy="220" rx="2.3" ry="3.3" fill="none" stroke="#6d6d6d" stroke-width="0.7"/><rect x="943" y="224.2" width="6" height="1.6" fill="none" stroke="#6d6d6d" stroke-width="0.6"/></g>
<g transform="rotate(0 1000 220)"><ellipse cx="1000" cy="220" rx="2.3" ry="3.3" fill="none" stroke="#6d6d6d" stroke-width="0.7"/><rect x="997" y="224.2" width="6" height="1.6" fill="none" stroke="#6d6d6d" stroke-width="0.6"/></g>
<circle cx="934" cy="226" r="2" fill="none" stroke="#6d6d6d" stroke-width="0.7"/>
<circle cx="1010" cy="226" r="2" fill="none" stroke="#6d6d6d" stroke-width="0.7"/>
<line x1="955" y1="210" x2="966" y2="228" stroke="#7a7a7a" stroke-width="0.6" />
<line x1="973" y1="210" x2="984" y2="228" stroke="#7a7a7a" stroke-width="0.6" />
<rect x="844" y="225" width="14" height="5" fill="none" stroke="#8a8a8a" stroke-width="0.6"/>
<rect x="888" y="225" width="14" height="5" fill="none" stroke="#8a8a8a" stroke-width="0.6"/>
<g transform="rotate(0 806 268)"><ellipse cx="806" cy="268" rx="2.3" ry="3.3" fill="none" stroke="#6d6d6d" stroke-width="0.7"/><rect x="803" y="262.6" width="6" height="1.6" fill="none" stroke="#6d6d6d" stroke-width="0.6"/></g>
<circle cx="817" cy="262" r="2" fill="none" stroke="#6d6d6d" stroke-width="0.7"/>
<line x1="775" y1="262" x2="790" y2="276" stroke="#7a7a7a" stroke-width="0.6" />
<g transform="rotate(0 946 268)"><ellipse cx="946" cy="268" rx="2.3" ry="3.3" fill="none" stroke="#6d6d6d" stroke-width="0.7"/><rect x="943" y="262.6" width="6" height="1.6" fill="none" stroke="#6d6d6d" stroke-width="0.6"/></g>
<circle cx="934" cy="262" r="2" fill="none" stroke="#6d6d6d" stroke-width="0.7"/>
<line x1="955" y1="260" x2="964" y2="276" stroke="#7a7a7a" stroke-width="0.6" />
<rect x="844" y="258" width="14" height="4" fill="none" stroke="#8a8a8a" stroke-width="0.6"/>
<rect x="888" y="258" width="14" height="4" fill="none" stroke="#8a8a8a" stroke-width="0.6"/>
<g transform="rotate(0 1075 208)"><ellipse cx="1075" cy="208" rx="2.3" ry="3.3" fill="none" stroke="#6d6d6d" stroke-width="0.7"/><rect x="1072" y="202.60000000000002" width="6" height="1.6" fill="none" stroke="#6d6d6d" stroke-width="0.6"/></g>
<circle cx="1077" cy="218" r="2" fill="none" stroke="#6d6d6d" stroke-width="0.7"/>
<line x1="1070" y1="160" x2="1088" y2="175" stroke="#7a7a7a" stroke-width="0.6" />
<g transform="rotate(0 1210 338)"><ellipse cx="1210" cy="338" rx="2.3" ry="3.3" fill="none" stroke="#6d6d6d" stroke-width="0.7"/><rect x="1207" y="332.6" width="6" height="1.6" fill="none" stroke="#6d6d6d" stroke-width="0.6"/></g>
<circle cx="1222" cy="342" r="2" fill="none" stroke="#6d6d6d" stroke-width="0.7"/>
<line x1="1191" y1="328" x2="1200" y2="345" stroke="#7a7a7a" stroke-width="0.6" />
<g transform="rotate(0 1325 339)"><ellipse cx="1325" cy="339" rx="2.3" ry="3.3" fill="none" stroke="#6d6d6d" stroke-width="0.7"/><rect x="1322" y="333.6" width="6" height="1.6" fill="none" stroke="#6d6d6d" stroke-width="0.6"/></g>
<circle cx="1316" cy="339" r="2" fill="none" stroke="#6d6d6d" stroke-width="0.7"/>
<line x1="1324" y1="316" x2="1340" y2="326" stroke="#7a7a7a" stroke-width="0.6" />
<g transform="rotate(0 1160 384)"><ellipse cx="1160" cy="384" rx="2.3" ry="3.3" fill="none" stroke="#6d6d6d" stroke-width="0.7"/><rect x="1157" y="388.2" width="6" height="1.6" fill="none" stroke="#6d6d6d" stroke-width="0.6"/></g>
<g transform="rotate(0 1212 384)"><ellipse cx="1212" cy="384" rx="2.3" ry="3.3" fill="none" stroke="#6d6d6d" stroke-width="0.7"/><rect x="1209" y="388.2" width="6" height="1.6" fill="none" stroke="#6d6d6d" stroke-width="0.6"/></g>
<circle cx="1146" cy="380" r="2" fill="none" stroke="#6d6d6d" stroke-width="0.7"/>
<circle cx="1226" cy="380" r="2" fill="none" stroke="#6d6d6d" stroke-width="0.7"/>
<line x1="1174" y1="380" x2="1184" y2="394" stroke="#7a7a7a" stroke-width="0.6" />
<line x1="1189" y1="380" x2="1200" y2="394" stroke="#7a7a7a" stroke-width="0.6" />
<rect x="1098" y="378" width="14" height="4" fill="none" stroke="#8a8a8a" stroke-width="0.6"/>
<rect x="1244" y="378" width="14" height="4" fill="none" stroke="#8a8a8a" stroke-width="0.6"/>
<g transform="rotate(0 1074 395)"><ellipse cx="1074" cy="395" rx="2.3" ry="3.3" fill="none" stroke="#6d6d6d" stroke-width="0.7"/><rect x="1071" y="389.6" width="6" height="1.6" fill="none" stroke="#6d6d6d" stroke-width="0.6"/></g>
<circle cx="1076" cy="405" r="2" fill="none" stroke="#6d6d6d" stroke-width="0.7"/>
<line x1="1068" y1="378" x2="1088" y2="390" stroke="#7a7a7a" stroke-width="0.6" />
<g transform="rotate(0 1326 380)"><ellipse cx="1326" cy="380" rx="2.3" ry="3.3" fill="none" stroke="#6d6d6d" stroke-width="0.7"/><rect x="1323" y="384.2" width="6" height="1.6" fill="none" stroke="#6d6d6d" stroke-width="0.6"/></g>
<circle cx="1318" cy="380" r="2" fill="none" stroke="#6d6d6d" stroke-width="0.7"/>
</svg></body></html>
